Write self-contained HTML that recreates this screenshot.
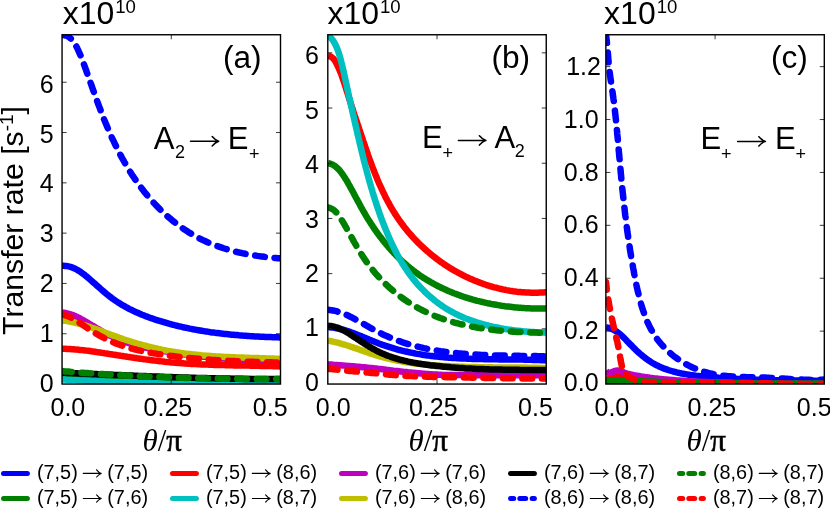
<!DOCTYPE html>
<html><head><meta charset="utf-8"><title>Transfer rate</title>
<style>html,body{margin:0;padding:0;background:#fff;}body{width:830px;height:508px;overflow:hidden;position:relative;font-family:"Liberation Sans",sans-serif;}</style>
</head><body>
<svg width="830" height="508" viewBox="0 0 830 508" style="display:block;position:absolute;left:0;top:0;will-change:transform">
<rect width="830" height="508" fill="#fff"/>
<defs></defs>
<clipPath id="cpa"><rect x="62.05" y="34.75" width="218.45" height="349.29"/></clipPath>
<g clip-path="url(#cpa)" fill="none" stroke-width="6.5" stroke-linejoin="round">
<path d="M62.0,265.8 L63.6,265.8 L65.1,265.9 L66.9,266.1 L68.6,266.4 L70.3,266.8 L71.9,267.4 L73.5,268.0 L75.1,268.7 L76.6,269.5 L78.1,270.4 L79.6,271.3 L81.1,272.3 L82.5,273.3 L83.9,274.3 L85.3,275.5 L86.7,276.6 L88.0,277.7 L89.4,278.9 L90.7,280.1 L92.1,281.3 L93.4,282.5 L94.8,283.6 L96.1,284.8 L97.4,286.0 L98.8,287.2 L100.1,288.4 L101.5,289.6 L102.8,290.8 L104.2,292.0 L105.5,293.1 L106.9,294.2 L108.3,295.4 L109.7,296.5 L111.1,297.5 L112.5,298.6 L114.0,299.6 L115.4,300.6 L116.9,301.6 L118.4,302.6 L119.9,303.5 L121.4,304.5 L122.9,305.4 L124.4,306.2 L126.0,307.1 L127.5,307.9 L129.1,308.8 L130.7,309.6 L132.3,310.3 L133.9,311.1 L135.5,311.9 L137.1,312.6 L138.7,313.3 L140.3,314.0 L142.0,314.7 L143.6,315.3 L145.3,316.0 L146.9,316.6 L148.6,317.3 L150.3,317.9 L151.9,318.4 L153.6,319.0 L155.3,319.6 L157.0,320.1 L158.7,320.7 L160.4,321.2 L162.1,321.7 L163.8,322.2 L165.5,322.7 L167.2,323.2 L168.9,323.7 L170.6,324.1 L172.4,324.6 L174.1,325.0 L175.8,325.5 L177.5,325.9 L179.2,326.3 L181.0,326.7 L182.7,327.1 L184.4,327.5 L186.2,327.8 L187.9,328.2 L189.6,328.6 L191.4,328.9 L193.1,329.3 L194.9,329.6 L196.6,329.9 L198.4,330.2 L200.1,330.5 L201.8,330.8 L203.6,331.1 L205.3,331.4 L207.1,331.6 L208.9,331.9 L210.6,332.2 L212.4,332.4 L214.1,332.6 L215.9,332.9 L217.6,333.1 L219.4,333.3 L221.2,333.5 L222.9,333.7 L224.7,333.9 L226.5,334.1 L228.2,334.3 L230.0,334.5 L231.8,334.7 L233.5,334.8 L235.3,335.0 L237.1,335.1 L238.8,335.3 L240.6,335.4 L242.4,335.6 L244.2,335.7 L245.9,335.8 L247.7,335.9 L249.5,336.1 L251.2,336.2 L253.0,336.3 L254.8,336.4 L256.6,336.5 L258.3,336.6 L260.1,336.7 L261.9,336.7 L263.7,336.8 L265.4,336.9 L267.2,337.0 L269.0,337.0 L270.8,337.1 L272.5,337.2 L274.3,337.2 L276.1,337.3 L277.8,337.3 L279.6,337.4 L280.5,337.4" stroke="#0000ff"/>
<path d="M62.0,374.5 L63.9,374.5 L65.7,374.6 L67.5,374.6 L69.3,374.7 L71.2,374.7 L73.0,374.8 L74.8,374.8 L76.6,374.9 L78.5,374.9 L80.3,375.0 L82.1,375.0 L83.9,375.1 L85.8,375.1 L87.6,375.2 L89.4,375.2 L91.2,375.3 L93.0,375.3 L94.9,375.4 L96.7,375.4 L98.5,375.5 L100.3,375.5 L102.2,375.6 L104.0,375.6 L105.8,375.7 L107.6,375.7 L109.5,375.8 L111.3,375.8 L113.1,375.9 L114.9,375.9 L116.8,376.0 L118.6,376.0 L120.4,376.1 L122.2,376.2 L124.0,376.2 L125.9,376.3 L127.7,376.3 L129.5,376.4 L131.3,376.4 L133.2,376.5 L135.0,376.6 L136.8,376.6 L138.6,376.7 L140.5,376.8 L142.3,376.8 L144.1,376.9 L145.9,377.0 L147.8,377.0 L149.6,377.1 L151.4,377.1 L153.2,377.2 L155.0,377.3 L156.9,377.3 L158.7,377.4 L160.5,377.5 L162.3,377.5 L164.2,377.6 L166.0,377.6 L167.8,377.7 L169.6,377.8 L171.5,377.8 L173.3,377.9 L175.1,377.9 L176.9,378.0 L178.8,378.0 L180.6,378.1 L182.4,378.1 L184.2,378.2 L186.0,378.2 L187.9,378.3 L189.7,378.3 L191.5,378.3 L193.3,378.4 L195.2,378.4 L197.0,378.5 L198.8,378.5 L200.6,378.5 L202.5,378.5 L204.3,378.6 L206.1,378.6 L207.9,378.6 L209.7,378.6 L211.6,378.7 L213.4,378.7 L215.2,378.7 L217.0,378.8 L218.9,378.8 L220.7,378.8 L222.5,378.8 L224.3,378.9 L226.2,378.9 L228.0,378.9 L229.8,378.9 L231.6,378.9 L233.5,379.0 L235.3,379.0 L237.1,379.0 L238.9,379.0 L240.7,379.1 L242.6,379.1 L244.4,379.1 L246.2,379.1 L248.0,379.1 L249.9,379.1 L251.7,379.2 L253.5,379.2 L255.3,379.2 L257.2,379.2 L259.0,379.2 L260.8,379.2 L262.6,379.2 L264.5,379.3 L266.3,379.3 L268.1,379.3 L269.9,379.3 L271.7,379.3 L273.6,379.3 L275.4,379.3 L277.2,379.3 L279.0,379.3 L280.5,379.3" stroke="#008000"/>
<path d="M62.0,348.7 L63.7,348.7 L65.3,348.8 L66.9,348.9 L68.6,349.0 L70.2,349.1 L71.9,349.2 L73.5,349.3 L75.2,349.4 L76.8,349.6 L78.4,349.7 L80.1,349.9 L81.7,350.1 L83.3,350.2 L85.0,350.4 L86.6,350.6 L88.2,350.8 L89.9,351.0 L91.5,351.3 L93.1,351.5 L94.8,351.7 L96.4,352.0 L98.0,352.2 L99.7,352.4 L101.3,352.7 L102.9,352.9 L104.5,353.2 L106.2,353.4 L107.8,353.7 L109.4,354.0 L111.1,354.2 L112.7,354.5 L114.3,354.7 L115.9,355.0 L117.6,355.3 L119.2,355.5 L120.8,355.8 L122.5,356.0 L124.1,356.3 L125.7,356.5 L127.3,356.8 L129.0,357.0 L130.6,357.3 L132.2,357.5 L133.9,357.8 L135.5,358.0 L137.1,358.3 L138.8,358.5 L140.4,358.7 L142.0,358.9 L143.7,359.2 L145.3,359.4 L146.9,359.6 L148.6,359.8 L150.2,360.0 L151.8,360.2 L153.5,360.4 L155.1,360.6 L156.7,360.8 L158.4,361.0 L160.0,361.2 L161.6,361.4 L163.3,361.6 L164.9,361.8 L166.6,361.9 L168.2,362.1 L169.8,362.2 L171.5,362.4 L173.1,362.6 L174.8,362.7 L176.4,362.8 L178.0,363.0 L179.7,363.1 L181.3,363.2 L183.0,363.3 L184.6,363.4 L186.3,363.6 L187.9,363.7 L189.6,363.8 L191.2,363.9 L192.8,364.0 L194.5,364.0 L196.1,364.1 L197.8,364.2 L199.4,364.3 L201.1,364.4 L202.7,364.4 L204.4,364.5 L206.0,364.6 L207.7,364.6 L209.3,364.7 L211.0,364.8 L212.6,364.8 L214.3,364.9 L215.9,364.9 L217.6,365.0 L219.2,365.0 L220.9,365.1 L222.5,365.1 L224.2,365.1 L225.8,365.2 L227.5,365.2 L229.1,365.3 L230.8,365.3 L232.4,365.3 L234.1,365.4 L235.7,365.4 L237.4,365.4 L239.0,365.5 L240.7,365.5 L242.3,365.5 L244.0,365.6 L245.6,365.6 L247.3,365.6 L248.9,365.6 L250.6,365.7 L252.2,365.7 L253.9,365.7 L255.5,365.8 L257.2,365.8 L258.8,365.8 L260.5,365.9 L262.1,365.9 L263.8,365.9 L265.4,366.0 L267.1,366.0 L268.7,366.1 L270.4,366.1 L272.0,366.1 L273.6,366.2 L275.3,366.2 L276.9,366.3 L278.6,366.3 L280.2,366.4 L280.5,366.4" stroke="#ff0000"/>
<path d="M62.0,379.4 L63.6,379.5 L65.3,379.6 L66.9,379.7 L68.6,379.8 L70.2,379.9 L71.8,380.0 L73.5,380.0 L75.1,380.1 L76.8,380.2 L78.4,380.3 L80.0,380.4 L81.7,380.5 L83.3,380.6 L85.0,380.7 L86.6,380.7 L88.2,380.8 L89.9,380.9 L91.5,381.0 L93.1,381.1 L94.8,381.1 L96.4,381.2 L98.1,381.3 L99.7,381.4 L101.3,381.4 L103.0,381.5 L104.6,381.6 L106.3,381.7 L107.9,381.7 L109.5,381.8 L111.2,381.9 L112.8,381.9 L114.5,382.0 L116.1,382.1 L117.7,382.1 L119.4,382.2 L121.0,382.2 L122.7,382.3 L124.3,382.4 L125.9,382.4 L127.6,382.5 L129.2,382.5 L130.9,382.6 L132.5,382.6 L134.1,382.7 L135.8,382.8 L137.4,382.8 L139.1,382.9 L140.7,382.9 L142.3,383.0 L144.0,383.0 L145.6,383.1 L147.3,383.1 L148.9,383.1 L150.6,383.2 L152.2,383.2 L153.8,383.3 L155.5,383.3 L157.1,383.4 L158.8,383.4 L160.4,383.4 L162.0,383.5 L163.7,383.5 L165.3,383.5 L167.0,383.6 L168.6,383.6 L170.2,383.7 L171.9,383.7 L173.5,383.7 L175.2,383.8 L176.8,383.8 L178.4,383.8 L180.1,383.8 L181.7,383.9 L183.4,383.9 L185.0,383.9 L186.7,384.0 L188.3,384.0 L189.9,384.0 L191.6,384.0 L193.2,384.0 L194.9,384.1 L196.5,384.1 L198.1,384.1 L199.8,384.1 L201.4,384.1 L203.1,384.2 L204.7,384.2 L206.3,384.2 L208.0,384.2 L209.6,384.2 L211.3,384.2 L212.9,384.3 L214.6,384.3 L216.2,384.3 L217.8,384.3 L219.5,384.3 L221.1,384.3 L222.8,384.3 L224.4,384.3 L226.0,384.3 L227.7,384.3 L229.3,384.3 L231.0,384.4 L232.6,384.4 L234.3,384.4 L235.9,384.4 L237.5,384.4 L239.2,384.4 L240.8,384.4 L242.5,384.4 L244.1,384.4 L245.7,384.4 L247.4,384.4 L249.0,384.4 L250.7,384.4 L252.3,384.4 L254.0,384.4 L255.6,384.4 L257.2,384.3 L258.9,384.3 L260.5,384.3 L262.2,384.3 L263.8,384.3 L265.4,384.3 L267.1,384.3 L268.7,384.3 L270.4,384.3 L272.0,384.3 L273.7,384.3 L275.3,384.2 L276.9,384.2 L278.6,384.2 L280.2,384.2 L280.5,384.2" stroke="#00bfbf"/>
<path d="M62.0,312.6 L63.7,312.8 L65.4,313.0 L67.1,313.4 L68.7,313.8 L70.3,314.2 L71.9,314.8 L73.5,315.4 L75.0,316.0 L76.6,316.7 L78.1,317.4 L79.6,318.2 L81.1,319.0 L82.6,319.8 L84.1,320.7 L85.6,321.5 L87.0,322.4 L88.5,323.3 L90.0,324.2 L91.4,325.1 L92.9,325.9 L94.4,326.8 L95.8,327.7 L97.3,328.6 L98.8,329.4 L100.3,330.3 L101.7,331.1 L103.2,332.0 L104.7,332.8 L106.2,333.6 L107.7,334.4 L109.2,335.2 L110.8,335.9 L112.3,336.7 L113.8,337.4 L115.4,338.1 L116.9,338.7 L118.5,339.4 L120.1,340.0 L121.6,340.6 L123.2,341.2 L124.8,341.8 L126.4,342.4 L128.0,342.9 L129.7,343.4 L131.3,343.9 L132.9,344.4 L134.5,344.9 L136.2,345.3 L137.8,345.8 L139.5,346.2 L141.1,346.6 L142.8,347.0 L144.5,347.4 L146.1,347.8 L147.8,348.2 L149.5,348.5 L151.2,348.9 L152.8,349.2 L154.5,349.5 L156.2,349.9 L157.9,350.2 L159.6,350.5 L161.3,350.8 L163.0,351.1 L164.7,351.3 L166.4,351.6 L168.1,351.9 L169.8,352.2 L171.4,352.4 L173.1,352.7 L174.8,353.0 L176.5,353.2 L178.2,353.5 L179.9,353.7 L181.6,353.9 L183.3,354.2 L185.0,354.4 L186.7,354.6 L188.4,354.9 L190.1,355.1 L191.8,355.3 L193.5,355.5 L195.1,355.7 L196.8,355.9 L198.5,356.1 L200.2,356.3 L201.9,356.5 L203.6,356.7 L205.3,356.8 L207.0,357.0 L208.7,357.2 L210.4,357.3 L212.1,357.5 L213.8,357.7 L215.5,357.8 L217.2,358.0 L218.9,358.1 L220.6,358.3 L222.3,358.4 L224.0,358.5 L225.6,358.7 L227.3,358.8 L229.0,358.9 L230.7,359.0 L232.4,359.1 L234.1,359.2 L235.8,359.3 L237.5,359.4 L239.2,359.5 L240.9,359.6 L242.6,359.7 L244.3,359.8 L246.0,359.9 L247.7,359.9 L249.4,360.0 L251.1,360.1 L252.9,360.1 L254.6,360.2 L256.3,360.2 L258.0,360.3 L259.7,360.3 L261.4,360.4 L263.1,360.4 L264.8,360.4 L266.5,360.4 L268.2,360.5 L269.9,360.5 L271.6,360.5 L273.4,360.5 L275.1,360.5 L276.8,360.5 L278.5,360.5 L280.2,360.5 L280.5,360.5" stroke="#bf00bf"/>
<path d="M62.0,320.5 L63.7,320.7 L65.3,320.9 L67.0,321.1 L68.6,321.4 L70.3,321.7 L71.9,322.0 L73.6,322.4 L75.2,322.8 L76.8,323.1 L78.4,323.6 L80.0,324.0 L81.6,324.4 L83.2,324.9 L84.8,325.4 L86.4,325.9 L88.0,326.4 L89.6,326.9 L91.2,327.5 L92.8,328.0 L94.4,328.6 L95.9,329.2 L97.5,329.7 L99.1,330.3 L100.7,330.9 L102.3,331.5 L103.8,332.1 L105.4,332.7 L107.0,333.3 L108.6,333.8 L110.1,334.4 L111.7,335.0 L113.3,335.6 L114.9,336.2 L116.5,336.7 L118.0,337.3 L119.6,337.9 L121.2,338.4 L122.8,339.0 L124.4,339.5 L126.0,340.0 L127.6,340.5 L129.2,341.0 L130.8,341.5 L132.4,342.0 L134.0,342.5 L135.6,343.0 L137.2,343.5 L138.8,344.0 L140.4,344.4 L142.1,344.9 L143.7,345.3 L145.3,345.7 L146.9,346.2 L148.5,346.6 L150.2,347.0 L151.8,347.4 L153.4,347.8 L155.1,348.1 L156.7,348.5 L158.3,348.9 L160.0,349.2 L161.6,349.6 L163.2,349.9 L164.9,350.2 L166.5,350.6 L168.2,350.9 L169.8,351.2 L171.5,351.5 L173.1,351.7 L174.8,352.0 L176.4,352.3 L178.1,352.5 L179.7,352.8 L181.4,353.0 L183.0,353.2 L184.7,353.5 L186.4,353.7 L188.0,353.9 L189.7,354.1 L191.4,354.3 L193.0,354.5 L194.7,354.6 L196.4,354.8 L198.0,355.0 L199.7,355.1 L201.4,355.3 L203.1,355.4 L204.7,355.6 L206.4,355.7 L208.1,355.8 L209.8,356.0 L211.4,356.1 L213.1,356.2 L214.8,356.3 L216.5,356.4 L218.2,356.5 L219.8,356.6 L221.5,356.7 L223.2,356.8 L224.9,356.9 L226.6,357.0 L228.3,357.0 L229.9,357.1 L231.6,357.2 L233.3,357.3 L235.0,357.3 L236.7,357.4 L238.3,357.5 L240.0,357.5 L241.7,357.6 L243.4,357.6 L245.1,357.7 L246.8,357.8 L248.4,357.8 L250.1,357.9 L251.8,357.9 L253.5,358.0 L255.1,358.0 L256.8,358.1 L258.5,358.1 L260.2,358.2 L261.9,358.2 L263.5,358.3 L265.2,358.3 L266.9,358.4 L268.5,358.5 L270.2,358.5 L271.9,358.6 L273.6,358.6 L275.2,358.7 L276.9,358.8 L278.6,358.8 L280.2,358.9 L280.5,358.9" stroke="#bfbf00"/>
<path d="M62.0,372.7 L63.6,372.8 L65.3,372.8 L66.9,372.9 L68.6,373.0 L70.2,373.0 L71.8,373.1 L73.5,373.2 L75.1,373.2 L76.8,373.3 L78.4,373.4 L80.0,373.4 L81.7,373.5 L83.3,373.6 L85.0,373.6 L86.6,373.7 L88.2,373.8 L89.9,373.8 L91.5,373.9 L93.2,374.0 L94.8,374.0 L96.4,374.1 L98.1,374.2 L99.7,374.2 L101.4,374.3 L103.0,374.4 L104.6,374.5 L106.3,374.5 L107.9,374.6 L109.6,374.7 L111.2,374.7 L112.8,374.8 L114.5,374.9 L116.1,374.9 L117.8,375.0 L119.4,375.1 L121.0,375.1 L122.7,375.2 L124.3,375.3 L126.0,375.3 L127.6,375.4 L129.3,375.5 L130.9,375.5 L132.5,375.6 L134.2,375.7 L135.8,375.7 L137.5,375.8 L139.1,375.9 L140.7,375.9 L142.4,376.0 L144.0,376.1 L145.7,376.1 L147.3,376.2 L148.9,376.3 L150.6,376.3 L152.2,376.4 L153.9,376.4 L155.5,376.5 L157.1,376.6 L158.8,376.6 L160.4,376.7 L162.1,376.7 L163.7,376.8 L165.3,376.9 L167.0,376.9 L168.6,377.0 L170.3,377.0 L171.9,377.1 L173.5,377.2 L175.2,377.2 L176.8,377.3 L178.5,377.3 L180.1,377.4 L181.7,377.4 L183.4,377.5 L185.0,377.5 L186.7,377.6 L188.3,377.6 L189.9,377.7 L191.6,377.7 L193.2,377.8 L194.9,377.8 L196.5,377.9 L198.2,377.9 L199.8,378.0 L201.4,378.0 L203.1,378.1 L204.7,378.1 L206.4,378.1 L208.0,378.2 L209.6,378.2 L211.3,378.3 L212.9,378.3 L214.6,378.3 L216.2,378.4 L217.8,378.4 L219.5,378.5 L221.1,378.5 L222.8,378.5 L224.4,378.6 L226.1,378.6 L227.7,378.6 L229.3,378.6 L231.0,378.7 L232.6,378.7 L234.3,378.7 L235.9,378.8 L237.5,378.8 L239.2,378.8 L240.8,378.8 L242.5,378.8 L244.1,378.9 L245.7,378.9 L247.4,378.9 L249.0,378.9 L250.7,378.9 L252.3,378.9 L254.0,379.0 L255.6,379.0 L257.2,379.0 L258.9,379.0 L260.5,379.0 L262.2,379.0 L263.8,379.0 L265.4,379.0 L267.1,379.0 L268.7,379.0 L270.4,379.0 L272.0,379.0 L273.7,379.0 L275.3,379.0 L276.9,379.0 L278.6,379.0 L280.2,379.0 L280.5,379.0" stroke="#000000"/>
<path d="M62.0,35.0 L63.8,35.1 L65.5,35.5 L67.1,36.0 L68.5,36.8 L69.8,37.7 L71.0,38.7 L72.1,39.9 L73.1,41.1 L74.1,42.5 L75.0,43.9 L75.8,45.4 L76.6,46.9 L77.4,48.5 L78.1,50.0 L78.8,51.6 L79.5,53.1 L80.2,54.7 L80.9,56.3 L81.5,57.9 L82.1,59.5 L82.7,61.1 L83.3,62.7 L83.9,64.3 L84.5,65.9 L85.1,67.5 L85.7,69.1 L86.3,70.7 L86.8,72.3 L87.4,73.9 L88.0,75.4 L88.5,77.0 L89.1,78.6 L89.7,80.2 L90.2,81.8 L90.8,83.4 L91.4,85.0 L91.9,86.6 L92.5,88.2 L93.0,89.8 L93.6,91.3 L94.2,92.9 L94.7,94.5 L95.3,96.1 L95.9,97.7 L96.5,99.2 L97.0,100.8 L97.6,102.4 L98.2,104.0 L98.8,105.6 L99.4,107.1 L100.0,108.7 L100.6,110.3 L101.2,111.9 L101.8,113.4 L102.4,115.0 L103.0,116.6 L103.6,118.1 L104.2,119.7 L104.9,121.3 L105.5,122.8 L106.2,124.4 L106.8,125.9 L107.5,127.5 L108.1,129.0 L108.8,130.6 L109.5,132.1 L110.1,133.7 L110.8,135.2 L111.5,136.8 L112.2,138.3 L112.9,139.8 L113.7,141.3 L114.4,142.9 L115.1,144.4 L115.9,145.9 L116.6,147.4 L117.4,148.9 L118.1,150.4 L118.9,151.9 L119.7,153.4 L120.4,154.9 L121.2,156.4 L122.0,157.9 L122.9,159.4 L123.7,160.8 L124.5,162.3 L125.4,163.8 L126.2,165.2 L127.1,166.7 L127.9,168.1 L128.8,169.6 L129.7,171.0 L130.6,172.4 L131.5,173.9 L132.4,175.3 L133.4,176.7 L134.3,178.1 L135.3,179.5 L136.2,180.9 L137.2,182.3 L138.2,183.7 L139.2,185.0 L140.2,186.4 L141.2,187.7 L142.2,189.1 L143.3,190.4 L144.3,191.8 L145.4,193.1 L146.5,194.4 L147.5,195.7 L148.6,197.0 L149.7,198.3 L150.9,199.6 L152.0,200.9 L153.1,202.1 L154.3,203.4 L155.4,204.6 L156.6,205.8 L157.8,207.1 L159.0,208.3 L160.2,209.5 L161.4,210.7 L162.6,211.8 L163.8,213.0 L165.1,214.1 L166.3,215.3 L167.6,216.4 L168.9,217.5 L170.2,218.6 L171.5,219.7 L172.8,220.8 L174.1,221.8 L175.4,222.9 L176.7,223.9 L178.1,224.9 L179.4,226.0 L180.8,226.9 L182.2,227.9 L183.6,228.9 L184.9,229.8 L186.4,230.7 L187.8,231.7 L189.2,232.6 L190.6,233.4 L192.1,234.3 L193.5,235.1 L195.0,236.0 L196.4,236.8 L197.9,237.6 L199.4,238.4 L200.9,239.1 L202.4,239.9 L203.9,240.6 L205.5,241.3 L207.0,242.0 L208.5,242.7 L210.1,243.3 L211.7,244.0 L213.2,244.6 L214.8,245.2 L216.4,245.8 L218.0,246.3 L219.6,246.9 L221.2,247.4 L222.8,248.0 L224.4,248.5 L226.0,249.0 L227.6,249.5 L229.2,249.9 L230.9,250.4 L232.5,250.8 L234.2,251.3 L235.8,251.7 L237.4,252.1 L239.1,252.5 L240.8,252.8 L242.4,253.2 L244.1,253.5 L245.7,253.9 L247.4,254.2 L249.1,254.5 L250.8,254.8 L252.4,255.1 L254.1,255.4 L255.8,255.6 L257.5,255.9 L259.1,256.1 L260.8,256.4 L262.5,256.6 L264.2,256.8 L265.9,257.0 L267.5,257.2 L269.2,257.4 L270.9,257.6 L272.6,257.7 L274.2,257.9 L275.9,258.0 L277.6,258.2 L279.3,258.3 L280.5,258.4" stroke="#0000ff" stroke-dasharray="9.75 9.75" stroke-dashoffset="0" stroke-linecap="round"/>
<path d="M62.0,371.1 L63.6,371.2 L65.3,371.4 L66.9,371.5 L68.5,371.6 L70.2,371.8 L71.8,371.9 L73.5,372.0 L75.1,372.2 L76.7,372.3 L78.4,372.4 L80.0,372.5 L81.6,372.7 L83.3,372.8 L84.9,372.9 L86.6,373.0 L88.2,373.1 L89.8,373.3 L91.5,373.4 L93.1,373.5 L94.8,373.6 L96.4,373.7 L98.0,373.8 L99.7,373.9 L101.3,374.0 L102.9,374.1 L104.6,374.2 L106.2,374.3 L107.9,374.4 L109.5,374.5 L111.1,374.6 L112.8,374.7 L114.4,374.8 L116.1,374.9 L117.7,375.0 L119.3,375.1 L121.0,375.2 L122.6,375.3 L124.3,375.4 L125.9,375.5 L127.5,375.6 L129.2,375.7 L130.8,375.7 L132.5,375.8 L134.1,375.9 L135.7,376.0 L137.4,376.1 L139.0,376.1 L140.7,376.2 L142.3,376.3 L143.9,376.4 L145.6,376.4 L147.2,376.5 L148.9,376.6 L150.5,376.7 L152.1,376.7 L153.8,376.8 L155.4,376.9 L157.1,376.9 L158.7,377.0 L160.4,377.0 L162.0,377.1 L163.6,377.2 L165.3,377.2 L166.9,377.3 L168.6,377.3 L170.2,377.4 L171.8,377.5 L173.5,377.5 L175.1,377.6 L176.8,377.6 L178.4,377.7 L180.0,377.7 L181.7,377.8 L183.3,377.8 L185.0,377.9 L186.6,377.9 L188.3,378.0 L189.9,378.0 L191.5,378.0 L193.2,378.1 L194.8,378.1 L196.5,378.2 L198.1,378.2 L199.8,378.2 L201.4,378.3 L203.0,378.3 L204.7,378.3 L206.3,378.4 L208.0,378.4 L209.6,378.4 L211.2,378.5 L212.9,378.5 L214.5,378.5 L216.2,378.6 L217.8,378.6 L219.5,378.6 L221.1,378.6 L222.7,378.7 L224.4,378.7 L226.0,378.7 L227.7,378.7 L229.3,378.8 L231.0,378.8 L232.6,378.8 L234.2,378.8 L235.9,378.8 L237.5,378.8 L239.2,378.9 L240.8,378.9 L242.4,378.9 L244.1,378.9 L245.7,378.9 L247.4,378.9 L249.0,378.9 L250.7,379.0 L252.3,379.0 L253.9,379.0 L255.6,379.0 L257.2,379.0 L258.9,379.0 L260.5,379.0 L262.2,379.0 L263.8,379.0 L265.4,379.0 L267.1,379.0 L268.7,379.0 L270.4,379.0 L272.0,379.0 L273.7,379.0 L275.3,379.0 L276.9,379.0 L278.6,379.0 L280.2,379.0 L280.5,379.0" stroke="#008000" stroke-dasharray="9.75 9.75" stroke-dashoffset="0" stroke-linecap="round"/>
<path d="M62.0,314.5 L63.7,314.9 L65.3,315.3 L66.9,315.9 L68.5,316.5 L70.0,317.1 L71.5,317.9 L73.0,318.7 L74.5,319.5 L76.0,320.4 L77.4,321.3 L78.8,322.2 L80.3,323.2 L81.7,324.1 L83.1,325.1 L84.5,326.1 L86.0,327.1 L87.4,328.1 L88.8,329.0 L90.3,330.0 L91.7,330.9 L93.2,331.8 L94.6,332.7 L96.1,333.6 L97.6,334.4 L99.0,335.3 L100.5,336.1 L102.0,336.9 L103.5,337.7 L105.0,338.5 L106.6,339.3 L108.1,340.0 L109.6,340.7 L111.2,341.4 L112.7,342.1 L114.3,342.7 L115.9,343.4 L117.5,344.0 L119.0,344.6 L120.6,345.2 L122.3,345.7 L123.9,346.2 L125.5,346.8 L127.1,347.3 L128.8,347.8 L130.4,348.2 L132.0,348.7 L133.7,349.1 L135.4,349.5 L137.0,349.9 L138.7,350.3 L140.4,350.7 L142.0,351.1 L143.7,351.4 L145.4,351.8 L147.1,352.1 L148.8,352.4 L150.5,352.8 L152.2,353.1 L153.9,353.4 L155.6,353.6 L157.3,353.9 L159.0,354.2 L160.7,354.4 L162.4,354.7 L164.1,354.9 L165.8,355.2 L167.5,355.4 L169.2,355.6 L170.9,355.9 L172.6,356.1 L174.3,356.3 L176.0,356.5 L177.7,356.7 L179.4,356.9 L181.2,357.1 L182.9,357.3 L184.6,357.5 L186.3,357.6 L188.0,357.8 L189.7,358.0 L191.4,358.2 L193.1,358.3 L194.8,358.5 L196.5,358.6 L198.2,358.8 L199.9,358.9 L201.6,359.1 L203.3,359.2 L205.0,359.4 L206.7,359.5 L208.4,359.6 L210.1,359.7 L211.8,359.9 L213.5,360.0 L215.2,360.1 L216.9,360.2 L218.6,360.3 L220.3,360.4 L222.0,360.5 L223.7,360.6 L225.4,360.7 L227.1,360.8 L228.9,360.9 L230.6,361.0 L232.3,361.0 L234.0,361.1 L235.7,361.2 L237.4,361.3 L239.1,361.3 L240.8,361.4 L242.5,361.5 L244.2,361.6 L245.9,361.6 L247.6,361.7 L249.3,361.7 L251.1,361.8 L252.8,361.8 L254.5,361.9 L256.2,361.9 L257.9,362.0 L259.6,362.0 L261.3,362.1 L263.0,362.1 L264.8,362.2 L266.5,362.2 L268.2,362.3 L269.9,362.3 L271.6,362.3 L273.3,362.4 L275.1,362.4 L276.8,362.4 L278.5,362.5 L280.2,362.5 L280.5,362.5" stroke="#ff0000" stroke-dasharray="9.75 9.75" stroke-dashoffset="0" stroke-linecap="round"/>
</g>
<clipPath id="cpb"><rect x="327.8" y="34.75" width="218.45" height="349.29"/></clipPath>
<g clip-path="url(#cpb)" fill="none" stroke-width="6.5" stroke-linejoin="round">
<path d="M328.0,327.0 L329.7,327.2 L331.4,327.4 L333.0,327.6 L334.7,327.9 L336.3,328.2 L337.9,328.5 L339.6,328.9 L341.2,329.3 L342.8,329.7 L344.4,330.2 L346.0,330.7 L347.6,331.2 L349.2,331.7 L350.7,332.2 L352.3,332.8 L353.9,333.4 L355.4,334.0 L357.0,334.6 L358.6,335.2 L360.1,335.8 L361.7,336.4 L363.2,337.1 L364.8,337.7 L366.3,338.4 L367.9,339.0 L369.4,339.7 L371.0,340.3 L372.5,340.9 L374.1,341.6 L375.6,342.2 L377.2,342.8 L378.7,343.4 L380.3,344.0 L381.9,344.6 L383.5,345.1 L385.0,345.7 L386.6,346.2 L388.2,346.7 L389.8,347.2 L391.4,347.7 L393.0,348.2 L394.6,348.7 L396.2,349.1 L397.8,349.6 L399.4,350.0 L401.0,350.4 L402.7,350.8 L404.3,351.2 L405.9,351.5 L407.5,351.9 L409.2,352.3 L410.8,352.6 L412.4,352.9 L414.1,353.2 L415.7,353.6 L417.4,353.9 L419.0,354.1 L420.7,354.4 L422.3,354.7 L424.0,354.9 L425.6,355.2 L427.3,355.4 L428.9,355.6 L430.6,355.9 L432.3,356.1 L433.9,356.3 L435.6,356.5 L437.3,356.6 L438.9,356.8 L440.6,357.0 L442.3,357.1 L443.9,357.3 L445.6,357.4 L447.3,357.6 L448.9,357.7 L450.6,357.8 L452.3,357.9 L454.0,358.0 L455.6,358.1 L457.3,358.2 L459.0,358.3 L460.7,358.4 L462.3,358.5 L464.0,358.6 L465.7,358.6 L467.4,358.7 L469.1,358.8 L470.7,358.8 L472.4,358.9 L474.1,358.9 L475.8,359.0 L477.5,359.0 L479.1,359.1 L480.8,359.1 L482.5,359.1 L484.2,359.2 L485.9,359.2 L487.6,359.2 L489.2,359.2 L490.9,359.3 L492.6,359.3 L494.3,359.3 L496.0,359.3 L497.7,359.3 L499.3,359.4 L501.0,359.4 L502.7,359.4 L504.4,359.4 L506.1,359.4 L507.7,359.4 L509.4,359.5 L511.1,359.5 L512.8,359.5 L514.5,359.5 L516.1,359.5 L517.8,359.6 L519.5,359.6 L521.2,359.6 L522.9,359.6 L524.5,359.7 L526.2,359.7 L527.9,359.7 L529.5,359.8 L531.2,359.8 L532.9,359.9 L534.6,359.9 L536.2,360.0 L537.9,360.0 L539.6,360.1 L541.2,360.2 L542.9,360.2 L544.6,360.3 L546.2,360.4 L546.5,360.4" stroke="#0000ff"/>
<path d="M328.0,163.1 L329.7,163.5 L331.4,164.1 L332.9,164.8 L334.4,165.7 L335.7,166.7 L337.0,167.8 L338.3,169.0 L339.5,170.3 L340.6,171.7 L341.7,173.1 L342.7,174.5 L343.7,176.0 L344.7,177.5 L345.6,179.0 L346.6,180.5 L347.5,182.0 L348.3,183.6 L349.2,185.1 L350.1,186.7 L350.9,188.3 L351.8,189.8 L352.6,191.4 L353.5,192.9 L354.3,194.5 L355.1,196.0 L355.9,197.6 L356.8,199.1 L357.6,200.6 L358.4,202.2 L359.3,203.7 L360.1,205.2 L360.9,206.8 L361.8,208.3 L362.6,209.8 L363.5,211.3 L364.4,212.8 L365.2,214.3 L366.1,215.8 L367.0,217.3 L367.9,218.8 L368.8,220.3 L369.8,221.8 L370.7,223.2 L371.7,224.7 L372.6,226.2 L373.6,227.6 L374.6,229.1 L375.6,230.5 L376.6,232.0 L377.7,233.4 L378.7,234.8 L379.7,236.2 L380.8,237.6 L381.9,239.0 L383.0,240.4 L384.1,241.8 L385.2,243.1 L386.3,244.5 L387.5,245.8 L388.6,247.2 L389.8,248.5 L391.0,249.8 L392.1,251.1 L393.3,252.4 L394.5,253.7 L395.8,254.9 L397.0,256.2 L398.3,257.4 L399.5,258.7 L400.8,259.9 L402.1,261.1 L403.4,262.3 L404.7,263.4 L406.0,264.6 L407.3,265.7 L408.7,266.8 L410.0,268.0 L411.4,269.1 L412.7,270.1 L414.1,271.2 L415.5,272.2 L416.9,273.3 L418.4,274.3 L419.8,275.3 L421.2,276.3 L422.7,277.2 L424.2,278.2 L425.6,279.1 L427.1,280.0 L428.6,280.9 L430.1,281.8 L431.6,282.7 L433.2,283.5 L434.7,284.3 L436.2,285.2 L437.8,286.0 L439.4,286.8 L440.9,287.5 L442.5,288.3 L444.1,289.0 L445.7,289.7 L447.3,290.5 L448.9,291.2 L450.5,291.8 L452.1,292.5 L453.8,293.2 L455.4,293.8 L457.0,294.4 L458.7,295.0 L460.4,295.6 L462.0,296.2 L463.7,296.8 L465.4,297.3 L467.0,297.8 L468.7,298.4 L470.4,298.9 L472.1,299.4 L473.8,299.8 L475.5,300.3 L477.2,300.8 L478.9,301.2 L480.6,301.6 L482.4,302.0 L484.1,302.4 L485.8,302.8 L487.5,303.2 L489.3,303.5 L491.0,303.9 L492.7,304.2 L494.5,304.5 L496.2,304.8 L498.0,305.1 L499.7,305.4 L501.5,305.7 L503.2,305.9 L505.0,306.2 L506.7,306.4 L508.5,306.6 L510.2,306.8 L512.0,307.0 L513.7,307.2 L515.5,307.4 L517.2,307.5 L519.0,307.7 L520.7,307.8 L522.5,307.9 L524.2,308.1 L526.0,308.2 L527.7,308.2 L529.5,308.3 L531.2,308.4 L533.0,308.4 L534.7,308.5 L536.5,308.5 L538.2,308.5 L539.9,308.6 L541.7,308.6 L543.4,308.5 L545.1,308.5 L546.5,308.5" stroke="#008000"/>
<path d="M328.0,56.0 L329.8,56.3 L331.4,57.0 L332.7,58.0 L333.9,59.3 L334.9,60.7 L335.8,62.2 L336.6,63.7 L337.4,65.3 L338.2,67.0 L338.9,68.6 L339.6,70.2 L340.3,71.9 L341.0,73.6 L341.6,75.2 L342.2,76.9 L342.8,78.6 L343.4,80.3 L343.9,81.9 L344.5,83.6 L345.0,85.3 L345.6,87.0 L346.1,88.6 L346.6,90.3 L347.1,92.0 L347.7,93.7 L348.2,95.4 L348.7,97.0 L349.2,98.7 L349.8,100.4 L350.3,102.0 L350.8,103.7 L351.4,105.4 L351.9,107.0 L352.5,108.7 L353.0,110.4 L353.5,112.0 L354.1,113.7 L354.6,115.3 L355.2,117.0 L355.7,118.7 L356.3,120.3 L356.8,122.0 L357.4,123.6 L358.0,125.3 L358.5,127.0 L359.1,128.6 L359.6,130.3 L360.2,132.0 L360.8,133.6 L361.3,135.3 L361.9,137.0 L362.5,138.7 L363.0,140.3 L363.6,142.0 L364.2,143.7 L364.7,145.4 L365.3,147.1 L365.9,148.7 L366.5,150.4 L367.1,152.1 L367.6,153.8 L368.2,155.5 L368.8,157.1 L369.4,158.8 L370.0,160.5 L370.7,162.2 L371.3,163.8 L371.9,165.5 L372.5,167.2 L373.2,168.8 L373.8,170.5 L374.5,172.2 L375.1,173.8 L375.8,175.5 L376.5,177.1 L377.1,178.7 L377.8,180.4 L378.5,182.0 L379.2,183.7 L379.9,185.3 L380.7,186.9 L381.4,188.5 L382.2,190.1 L382.9,191.7 L383.7,193.3 L384.5,194.9 L385.2,196.5 L386.0,198.1 L386.9,199.6 L387.7,201.2 L388.5,202.7 L389.4,204.3 L390.2,205.8 L391.1,207.4 L392.0,208.9 L392.9,210.4 L393.8,211.9 L394.7,213.4 L395.7,214.9 L396.7,216.3 L397.6,217.8 L398.6,219.3 L399.6,220.7 L400.7,222.1 L401.7,223.6 L402.8,225.0 L403.8,226.4 L404.9,227.8 L406.0,229.1 L407.1,230.5 L408.2,231.9 L409.4,233.2 L410.5,234.5 L411.7,235.8 L412.9,237.2 L414.1,238.5 L415.3,239.7 L416.5,241.0 L417.7,242.3 L419.0,243.5 L420.2,244.7 L421.5,246.0 L422.8,247.2 L424.1,248.4 L425.4,249.6 L426.7,250.7 L428.1,251.9 L429.4,253.0 L430.8,254.2 L432.1,255.3 L433.5,256.4 L434.9,257.5 L436.3,258.5 L437.7,259.6 L439.1,260.6 L440.5,261.7 L442.0,262.7 L443.4,263.7 L444.9,264.7 L446.4,265.7 L447.9,266.6 L449.3,267.6 L450.8,268.5 L452.3,269.4 L453.9,270.3 L455.4,271.2 L456.9,272.0 L458.5,272.9 L460.0,273.7 L461.6,274.5 L463.2,275.3 L464.7,276.1 L466.3,276.9 L467.9,277.6 L469.5,278.4 L471.1,279.1 L472.7,279.8 L474.4,280.5 L476.0,281.1 L477.6,281.8 L479.3,282.4 L480.9,283.0 L482.6,283.6 L484.2,284.2 L485.9,284.8 L487.6,285.3 L489.2,285.8 L490.9,286.3 L492.6,286.8 L494.3,287.3 L496.0,287.7 L497.7,288.2 L499.4,288.6 L501.2,289.0 L502.9,289.4 L504.6,289.7 L506.3,290.1 L508.1,290.4 L509.8,290.7 L511.5,290.9 L513.3,291.2 L515.0,291.4 L516.8,291.7 L518.5,291.9 L520.3,292.0 L522.1,292.2 L523.8,292.3 L525.6,292.4 L527.4,292.5 L529.1,292.6 L530.9,292.7 L532.7,292.7 L534.5,292.7 L536.2,292.7 L538.0,292.7 L539.8,292.6 L541.6,292.5 L543.4,292.4 L545.2,292.3 L546.5,292.2" stroke="#ff0000"/>
<path d="M328.0,35.0 L329.2,36.0 L330.2,37.1 L331.2,38.3 L332.2,39.4 L333.1,40.7 L333.9,41.9 L334.6,43.2 L335.4,44.6 L336.0,45.9 L336.6,47.3 L337.2,48.7 L337.8,50.2 L338.3,51.6 L338.8,53.1 L339.3,54.6 L339.7,56.1 L340.1,57.6 L340.6,59.0 L341.0,60.5 L341.3,62.0 L341.7,63.5 L342.1,65.0 L342.5,66.5 L342.8,68.1 L343.2,69.6 L343.5,71.1 L343.9,72.6 L344.2,74.1 L344.5,75.6 L344.8,77.1 L345.2,78.6 L345.5,80.1 L345.8,81.6 L346.1,83.1 L346.5,84.6 L346.8,86.2 L347.1,87.7 L347.4,89.2 L347.8,90.7 L348.1,92.2 L348.4,93.7 L348.7,95.2 L349.1,96.7 L349.4,98.2 L349.7,99.7 L350.1,101.2 L350.4,102.7 L350.8,104.2 L351.1,105.7 L351.4,107.2 L351.8,108.7 L352.1,110.2 L352.4,111.7 L352.8,113.2 L353.1,114.7 L353.5,116.2 L353.8,117.7 L354.2,119.2 L354.5,120.7 L354.8,122.2 L355.2,123.7 L355.5,125.2 L355.9,126.7 L356.2,128.2 L356.6,129.7 L356.9,131.2 L357.3,132.7 L357.6,134.2 L358.0,135.7 L358.3,137.2 L358.7,138.7 L359.0,140.2 L359.4,141.6 L359.7,143.1 L360.1,144.6 L360.5,146.1 L360.8,147.6 L361.2,149.1 L361.5,150.6 L361.9,152.1 L362.3,153.6 L362.6,155.1 L363.0,156.6 L363.4,158.1 L363.7,159.6 L364.1,161.1 L364.5,162.6 L364.9,164.1 L365.3,165.5 L365.6,167.0 L366.0,168.5 L366.4,170.0 L366.8,171.5 L367.2,173.0 L367.6,174.5 L368.0,176.0 L368.4,177.4 L368.8,178.9 L369.2,180.4 L369.6,181.9 L370.1,183.4 L370.5,184.8 L370.9,186.3 L371.3,187.8 L371.8,189.3 L372.2,190.7 L372.6,192.2 L373.1,193.7 L373.5,195.2 L374.0,196.6 L374.5,198.1 L374.9,199.6 L375.4,201.0 L375.9,202.5 L376.3,203.9 L376.8,205.4 L377.3,206.9 L377.8,208.3 L378.3,209.8 L378.8,211.2 L379.3,212.7 L379.8,214.1 L380.3,215.6 L380.9,217.0 L381.4,218.5 L381.9,219.9 L382.5,221.4 L383.0,222.8 L383.6,224.2 L384.2,225.7 L384.7,227.1 L385.3,228.5 L385.9,230.0 L386.5,231.4 L387.1,232.8 L387.7,234.2 L388.3,235.7 L388.9,237.1 L389.5,238.5 L390.1,239.9 L390.8,241.3 L391.4,242.7 L392.1,244.1 L392.7,245.5 L393.4,246.9 L394.1,248.3 L394.8,249.7 L395.5,251.1 L396.2,252.4 L396.9,253.8 L397.6,255.1 L398.4,256.5 L399.1,257.8 L399.9,259.2 L400.7,260.5 L401.4,261.8 L402.2,263.2 L403.0,264.5 L403.9,265.8 L404.7,267.1 L405.5,268.4 L406.4,269.6 L407.2,270.9 L408.1,272.2 L409.0,273.4 L409.9,274.7 L410.8,275.9 L411.8,277.1 L412.7,278.3 L413.7,279.5 L414.6,280.7 L415.6,281.9 L416.6,283.1 L417.6,284.2 L418.6,285.4 L419.7,286.5 L420.7,287.6 L421.8,288.7 L422.9,289.8 L423.9,290.9 L425.0,292.0 L426.2,293.1 L427.3,294.1 L428.4,295.1 L429.5,296.1 L430.7,297.2 L431.9,298.1 L433.1,299.1 L434.2,300.1 L435.4,301.0 L436.7,302.0 L437.9,302.9 L439.1,303.8 L440.4,304.7 L441.6,305.6 L442.9,306.4 L444.2,307.3 L445.4,308.1 L446.7,308.9 L448.0,309.7 L449.4,310.4 L450.7,311.2 L452.0,311.9 L453.4,312.7 L454.7,313.4 L456.1,314.1 L457.5,314.7 L458.8,315.4 L460.2,316.0 L461.6,316.7 L463.0,317.3 L464.4,317.9 L465.9,318.5 L467.3,319.0 L468.7,319.6 L470.2,320.1 L471.6,320.6 L473.1,321.1 L474.5,321.6 L476.0,322.1 L477.5,322.6 L479.0,323.0 L480.4,323.5 L481.9,323.9 L483.4,324.3 L484.9,324.7 L486.4,325.1 L487.9,325.5 L489.4,325.9 L490.9,326.2 L492.5,326.6 L494.0,326.9 L495.5,327.2 L497.0,327.5 L498.6,327.8 L500.1,328.1 L501.6,328.4 L503.2,328.7 L504.7,328.9 L506.2,329.2 L507.8,329.4 L509.3,329.6 L510.8,329.8 L512.4,330.1 L513.9,330.3 L515.5,330.4 L517.0,330.6 L518.6,330.8 L520.1,331.0 L521.6,331.1 L523.2,331.3 L524.7,331.4 L526.2,331.5 L527.8,331.7 L529.3,331.8 L530.8,331.9 L532.4,332.0 L533.9,332.1 L535.4,332.2 L536.9,332.3 L538.5,332.4 L540.0,332.4 L541.5,332.5 L543.0,332.6 L544.5,332.6 L546.5,332.7" stroke="#00bfbf"/>
<path d="M327.8,364.4 L329.6,364.5 L331.4,364.6 L333.3,364.8 L335.1,364.9 L336.9,365.0 L338.7,365.2 L340.6,365.3 L342.4,365.4 L344.2,365.6 L346.0,365.7 L347.9,365.9 L349.7,366.0 L351.5,366.2 L353.3,366.3 L355.2,366.5 L357.0,366.7 L358.8,366.8 L360.6,367.0 L362.4,367.2 L364.3,367.3 L366.1,367.5 L367.9,367.7 L369.7,367.9 L371.6,368.0 L373.4,368.2 L375.2,368.4 L377.0,368.6 L378.9,368.9 L380.7,369.1 L382.5,369.3 L384.3,369.5 L386.2,369.8 L388.0,370.0 L389.8,370.2 L391.6,370.4 L393.4,370.7 L395.3,370.9 L397.1,371.1 L398.9,371.3 L400.7,371.5 L402.6,371.7 L404.4,371.9 L406.2,372.1 L408.0,372.3 L409.9,372.4 L411.7,372.6 L413.5,372.7 L415.3,372.9 L417.1,373.1 L419.0,373.2 L420.8,373.4 L422.6,373.6 L424.4,373.7 L426.3,373.9 L428.1,374.0 L429.9,374.2 L431.7,374.3 L433.6,374.4 L435.4,374.5 L437.2,374.6 L439.0,374.7 L440.9,374.8 L442.7,374.9 L444.5,374.9 L446.3,375.0 L448.1,375.0 L450.0,375.0 L451.8,375.0 L453.6,375.0 L455.4,375.0 L457.3,375.1 L459.1,375.1 L460.9,375.1 L462.7,375.1 L464.6,375.1 L466.4,375.1 L468.2,375.1 L470.0,375.1 L471.9,375.1 L473.7,375.1 L475.5,375.2 L477.3,375.2 L479.1,375.2 L481.0,375.2 L482.8,375.2 L484.6,375.2 L486.4,375.2 L488.3,375.2 L490.1,375.2 L491.9,375.2 L493.7,375.2 L495.6,375.2 L497.4,375.2 L499.2,375.2 L501.0,375.2 L502.9,375.2 L504.7,375.3 L506.5,375.3 L508.3,375.3 L510.1,375.3 L512.0,375.3 L513.8,375.3 L515.6,375.3 L517.4,375.3 L519.3,375.3 L521.1,375.3 L522.9,375.3 L524.7,375.3 L526.6,375.3 L528.4,375.3 L530.2,375.3 L532.0,375.3 L533.9,375.3 L535.7,375.3 L537.5,375.3 L539.3,375.3 L541.1,375.3 L543.0,375.3 L544.8,375.3 L546.2,375.3" stroke="#bf00bf"/>
<path d="M328.0,340.6 L329.6,340.9 L331.3,341.2 L332.9,341.6 L334.5,341.9 L336.1,342.3 L337.7,342.7 L339.3,343.2 L340.9,343.6 L342.5,344.1 L344.1,344.5 L345.7,345.0 L347.3,345.5 L348.9,346.0 L350.5,346.6 L352.1,347.1 L353.6,347.6 L355.2,348.2 L356.8,348.7 L358.4,349.2 L359.9,349.8 L361.5,350.3 L363.1,350.9 L364.7,351.4 L366.2,352.0 L367.8,352.5 L369.4,353.1 L371.0,353.6 L372.5,354.1 L374.1,354.6 L375.7,355.1 L377.3,355.6 L378.9,356.1 L380.5,356.6 L382.1,357.0 L383.7,357.5 L385.3,357.9 L386.9,358.3 L388.5,358.7 L390.1,359.1 L391.7,359.4 L393.4,359.8 L395.0,360.1 L396.6,360.5 L398.2,360.8 L399.9,361.1 L401.5,361.4 L403.1,361.7 L404.8,361.9 L406.4,362.2 L408.1,362.5 L409.7,362.7 L411.4,362.9 L413.0,363.2 L414.7,363.4 L416.3,363.6 L418.0,363.8 L419.6,364.0 L421.3,364.1 L422.9,364.3 L424.6,364.5 L426.3,364.6 L427.9,364.8 L429.6,364.9 L431.2,365.1 L432.9,365.2 L434.6,365.3 L436.2,365.4 L437.9,365.6 L439.6,365.7 L441.2,365.8 L442.9,365.9 L444.6,366.0 L446.2,366.1 L447.9,366.1 L449.6,366.2 L451.2,366.3 L452.9,366.4 L454.6,366.5 L456.2,366.5 L457.9,366.6 L459.6,366.7 L461.2,366.7 L462.9,366.8 L464.6,366.8 L466.2,366.9 L467.9,366.9 L469.6,367.0 L471.2,367.0 L472.9,367.0 L474.6,367.1 L476.2,367.1 L477.9,367.1 L479.6,367.2 L481.2,367.2 L482.9,367.2 L484.6,367.3 L486.3,367.3 L487.9,367.3 L489.6,367.3 L491.3,367.3 L492.9,367.4 L494.6,367.4 L496.3,367.4 L497.9,367.4 L499.6,367.4 L501.3,367.4 L502.9,367.4 L504.6,367.5 L506.3,367.5 L507.9,367.5 L509.6,367.5 L511.3,367.5 L512.9,367.5 L514.6,367.5 L516.3,367.5 L517.9,367.6 L519.6,367.6 L521.3,367.6 L522.9,367.6 L524.6,367.6 L526.3,367.6 L527.9,367.7 L529.6,367.7 L531.3,367.7 L532.9,367.7 L534.6,367.8 L536.2,367.8 L537.9,367.8 L539.6,367.8 L541.2,367.9 L542.9,367.9 L544.6,368.0 L546.2,368.0 L546.5,368.0" stroke="#bfbf00"/>
<path d="M328.0,325.8 L329.7,325.9 L331.4,326.1 L333.1,326.5 L334.7,326.9 L336.3,327.3 L337.9,327.9 L339.5,328.5 L341.0,329.2 L342.5,329.9 L344.0,330.7 L345.5,331.5 L347.0,332.3 L348.5,333.2 L349.9,334.1 L351.3,335.1 L352.8,336.0 L354.2,337.0 L355.7,337.9 L357.1,338.9 L358.5,339.8 L360.0,340.8 L361.4,341.7 L362.9,342.6 L364.3,343.6 L365.8,344.5 L367.2,345.4 L368.7,346.3 L370.1,347.2 L371.6,348.0 L373.1,348.9 L374.6,349.7 L376.1,350.5 L377.6,351.3 L379.1,352.0 L380.7,352.7 L382.2,353.4 L383.8,354.1 L385.3,354.7 L386.9,355.4 L388.5,356.0 L390.1,356.5 L391.7,357.1 L393.3,357.6 L394.9,358.1 L396.6,358.6 L398.2,359.1 L399.8,359.6 L401.5,360.0 L403.1,360.4 L404.8,360.8 L406.5,361.2 L408.1,361.6 L409.8,361.9 L411.5,362.3 L413.2,362.6 L414.9,362.9 L416.6,363.2 L418.3,363.5 L420.0,363.7 L421.7,364.0 L423.4,364.2 L425.1,364.5 L426.8,364.7 L428.5,364.9 L430.2,365.2 L431.9,365.4 L433.6,365.6 L435.3,365.8 L437.0,366.0 L438.7,366.1 L440.4,366.3 L442.1,366.5 L443.9,366.7 L445.6,366.8 L447.3,367.0 L449.0,367.1 L450.7,367.3 L452.4,367.4 L454.1,367.5 L455.8,367.7 L457.5,367.8 L459.2,367.9 L460.9,368.0 L462.6,368.1 L464.3,368.2 L466.0,368.4 L467.7,368.4 L469.4,368.5 L471.1,368.6 L472.8,368.7 L474.5,368.8 L476.2,368.9 L477.9,368.9 L479.6,369.0 L481.3,369.1 L483.0,369.1 L484.7,369.2 L486.4,369.3 L488.1,369.3 L489.8,369.4 L491.5,369.4 L493.2,369.5 L494.9,369.5 L496.6,369.5 L498.3,369.6 L500.1,369.6 L501.8,369.6 L503.5,369.7 L505.2,369.7 L506.9,369.7 L508.6,369.7 L510.3,369.8 L512.0,369.8 L513.7,369.8 L515.4,369.8 L517.1,369.8 L518.8,369.8 L520.5,369.9 L522.2,369.9 L523.9,369.9 L525.7,369.9 L527.4,369.9 L529.1,369.9 L530.8,369.9 L532.5,369.9 L534.2,369.9 L535.9,369.9 L537.6,369.9 L539.3,369.9 L541.1,369.9 L542.8,369.9 L544.5,369.9 L546.2,369.9 L546.5,369.9" stroke="#000000"/>
<path d="M328.0,309.8 L329.7,310.0 L331.4,310.2 L333.1,310.5 L334.7,310.8 L336.4,311.2 L338.0,311.7 L339.6,312.2 L341.2,312.7 L342.7,313.3 L344.3,313.9 L345.9,314.6 L347.4,315.3 L348.9,316.0 L350.5,316.8 L352.0,317.5 L353.5,318.3 L355.0,319.1 L356.5,319.9 L358.0,320.8 L359.5,321.6 L361.0,322.4 L362.5,323.3 L364.0,324.1 L365.5,325.0 L367.0,325.9 L368.5,326.7 L369.9,327.6 L371.4,328.4 L372.9,329.2 L374.5,330.1 L376.0,330.9 L377.5,331.7 L379.0,332.5 L380.5,333.2 L382.1,334.0 L383.6,334.7 L385.2,335.4 L386.7,336.1 L388.3,336.8 L389.8,337.5 L391.4,338.2 L393.0,338.8 L394.6,339.4 L396.2,340.0 L397.8,340.6 L399.4,341.2 L401.0,341.7 L402.6,342.3 L404.2,342.8 L405.8,343.3 L407.4,343.8 L409.1,344.3 L410.7,344.8 L412.3,345.2 L414.0,345.7 L415.6,346.1 L417.3,346.5 L418.9,346.9 L420.6,347.3 L422.2,347.7 L423.9,348.1 L425.6,348.4 L427.2,348.8 L428.9,349.1 L430.6,349.4 L432.2,349.8 L433.9,350.1 L435.6,350.3 L437.3,350.6 L439.0,350.9 L440.6,351.2 L442.3,351.4 L444.0,351.6 L445.7,351.9 L447.4,352.1 L449.1,352.3 L450.8,352.5 L452.5,352.7 L454.2,352.9 L455.8,353.1 L457.5,353.2 L459.2,353.4 L460.9,353.5 L462.6,353.7 L464.3,353.8 L466.0,354.0 L467.7,354.1 L469.5,354.2 L471.2,354.3 L472.9,354.4 L474.6,354.5 L476.3,354.6 L478.0,354.7 L479.7,354.8 L481.4,354.9 L483.1,355.0 L484.8,355.0 L486.5,355.1 L488.2,355.2 L489.9,355.2 L491.7,355.3 L493.4,355.3 L495.1,355.4 L496.8,355.4 L498.5,355.5 L500.2,355.5 L501.9,355.5 L503.6,355.6 L505.3,355.6 L507.1,355.6 L508.8,355.7 L510.5,355.7 L512.2,355.7 L513.9,355.8 L515.6,355.8 L517.3,355.8 L519.0,355.8 L520.7,355.9 L522.4,355.9 L524.1,355.9 L525.8,355.9 L527.5,356.0 L529.2,356.0 L530.9,356.0 L532.6,356.1 L534.3,356.1 L536.0,356.1 L537.7,356.2 L539.4,356.2 L541.1,356.2 L542.8,356.3 L544.5,356.3 L546.2,356.4 L546.5,356.4" stroke="#0000ff" stroke-dasharray="9.75 9.75" stroke-dashoffset="0" stroke-linecap="round"/>
<path d="M328.0,207.5 L329.7,207.9 L331.2,208.5 L332.7,209.3 L334.0,210.2 L335.2,211.3 L336.3,212.4 L337.4,213.7 L338.4,215.0 L339.4,216.4 L340.3,217.8 L341.2,219.3 L342.1,220.7 L343.0,222.2 L343.9,223.7 L344.8,225.2 L345.6,226.7 L346.5,228.2 L347.3,229.7 L348.1,231.2 L349.0,232.7 L349.8,234.2 L350.6,235.7 L351.4,237.1 L352.3,238.6 L353.1,240.1 L353.9,241.6 L354.7,243.0 L355.6,244.5 L356.4,246.0 L357.3,247.4 L358.1,248.8 L359.0,250.3 L359.8,251.7 L360.7,253.1 L361.6,254.5 L362.5,255.9 L363.4,257.3 L364.3,258.7 L365.3,260.1 L366.2,261.5 L367.2,262.8 L368.2,264.2 L369.2,265.5 L370.2,266.9 L371.3,268.2 L372.3,269.5 L373.4,270.8 L374.4,272.1 L375.5,273.4 L376.7,274.7 L377.8,275.9 L378.9,277.2 L380.1,278.4 L381.2,279.6 L382.4,280.9 L383.6,282.1 L384.8,283.3 L386.0,284.4 L387.3,285.6 L388.5,286.8 L389.8,287.9 L391.0,289.0 L392.3,290.1 L393.6,291.2 L394.9,292.3 L396.2,293.4 L397.6,294.4 L398.9,295.5 L400.3,296.5 L401.6,297.5 L403.0,298.5 L404.4,299.5 L405.8,300.4 L407.2,301.4 L408.6,302.3 L410.0,303.2 L411.4,304.1 L412.9,305.0 L414.3,305.9 L415.8,306.7 L417.2,307.5 L418.7,308.4 L420.2,309.1 L421.7,309.9 L423.2,310.7 L424.7,311.4 L426.2,312.1 L427.7,312.9 L429.3,313.5 L430.8,314.2 L432.3,314.9 L433.9,315.5 L435.4,316.2 L437.0,316.8 L438.6,317.4 L440.1,318.0 L441.7,318.5 L443.3,319.1 L444.9,319.6 L446.5,320.1 L448.1,320.6 L449.7,321.1 L451.3,321.6 L452.9,322.1 L454.6,322.6 L456.2,323.0 L457.8,323.4 L459.5,323.8 L461.1,324.3 L462.7,324.6 L464.4,325.0 L466.0,325.4 L467.7,325.8 L469.4,326.1 L471.0,326.4 L472.7,326.8 L474.4,327.1 L476.0,327.4 L477.7,327.7 L479.4,327.9 L481.1,328.2 L482.7,328.5 L484.4,328.7 L486.1,329.0 L487.8,329.2 L489.5,329.4 L491.2,329.6 L492.9,329.8 L494.6,330.0 L496.3,330.2 L498.0,330.4 L499.7,330.6 L501.4,330.7 L503.1,330.9 L504.8,331.0 L506.4,331.2 L508.1,331.3 L509.8,331.4 L511.5,331.5 L513.2,331.7 L514.9,331.8 L516.6,331.9 L518.3,332.0 L520.0,332.0 L521.7,332.1 L523.4,332.2 L525.1,332.3 L526.8,332.3 L528.5,332.4 L530.1,332.5 L531.8,332.5 L533.5,332.6 L535.2,332.6 L536.9,332.6 L538.5,332.7 L540.2,332.7 L541.9,332.7 L543.5,332.8 L545.2,332.8 L546.5,332.8" stroke="#008000" stroke-dasharray="9.75 9.75" stroke-dashoffset="0" stroke-linecap="round"/>
<path d="M327.8,368.7 L329.6,368.9 L331.4,369.1 L333.3,369.2 L335.1,369.4 L336.9,369.6 L338.7,369.8 L340.6,370.0 L342.4,370.2 L344.2,370.3 L346.0,370.5 L347.9,370.7 L349.7,370.9 L351.5,371.1 L353.3,371.2 L355.2,371.4 L357.0,371.6 L358.8,371.7 L360.6,371.9 L362.4,372.1 L364.3,372.3 L366.1,372.4 L367.9,372.6 L369.7,372.7 L371.6,372.9 L373.4,373.1 L375.2,373.3 L377.0,373.4 L378.9,373.6 L380.7,373.8 L382.5,374.0 L384.3,374.1 L386.2,374.3 L388.0,374.5 L389.8,374.7 L391.6,374.8 L393.4,375.0 L395.3,375.1 L397.1,375.3 L398.9,375.4 L400.7,375.5 L402.6,375.7 L404.4,375.8 L406.2,375.9 L408.0,376.0 L409.9,376.1 L411.7,376.1 L413.5,376.2 L415.3,376.3 L417.1,376.4 L419.0,376.4 L420.8,376.5 L422.6,376.5 L424.4,376.6 L426.3,376.7 L428.1,376.7 L429.9,376.8 L431.7,376.8 L433.6,376.9 L435.4,376.9 L437.2,377.0 L439.0,377.0 L440.9,377.0 L442.7,377.1 L444.5,377.1 L446.3,377.2 L448.1,377.2 L450.0,377.2 L451.8,377.3 L453.6,377.3 L455.4,377.3 L457.3,377.4 L459.1,377.4 L460.9,377.5 L462.7,377.5 L464.6,377.5 L466.4,377.6 L468.2,377.6 L470.0,377.6 L471.9,377.7 L473.7,377.7 L475.5,377.7 L477.3,377.8 L479.1,377.8 L481.0,377.8 L482.8,377.8 L484.6,377.9 L486.4,377.9 L488.3,377.9 L490.1,378.0 L491.9,378.0 L493.7,378.0 L495.6,378.1 L497.4,378.1 L499.2,378.1 L501.0,378.1 L502.9,378.2 L504.7,378.2 L506.5,378.2 L508.3,378.2 L510.1,378.3 L512.0,378.3 L513.8,378.3 L515.6,378.3 L517.4,378.3 L519.3,378.4 L521.1,378.4 L522.9,378.4 L524.7,378.4 L526.6,378.4 L528.4,378.4 L530.2,378.4 L532.0,378.5 L533.9,378.5 L535.7,378.5 L537.5,378.5 L539.3,378.5 L541.1,378.5 L543.0,378.5 L544.8,378.5 L546.2,378.5" stroke="#ff0000" stroke-dasharray="9.75 9.75" stroke-dashoffset="0" stroke-linecap="round"/>
</g>
<clipPath id="cpc"><rect x="605.85" y="34.75" width="218.45" height="349.29"/></clipPath>
<g clip-path="url(#cpc)" fill="none" stroke-width="6.5" stroke-linejoin="round">
<path d="M606.0,327.3 L607.5,327.6 L609.2,328.0 L610.9,328.6 L612.5,329.3 L614.0,330.0 L615.5,330.9 L616.9,331.8 L618.3,332.8 L619.6,333.9 L621.0,335.0 L622.2,336.2 L623.5,337.4 L624.8,338.6 L626.0,339.9 L627.2,341.2 L628.5,342.5 L629.7,343.8 L631.0,345.0 L632.2,346.3 L633.5,347.6 L634.7,348.8 L636.0,350.1 L637.3,351.3 L638.6,352.5 L639.9,353.7 L641.3,354.8 L642.6,355.9 L644.0,357.0 L645.4,358.1 L646.8,359.2 L648.2,360.2 L649.6,361.1 L651.1,362.1 L652.5,363.0 L654.0,363.8 L655.5,364.7 L657.1,365.4 L658.6,366.2 L660.2,366.9 L661.7,367.6 L663.3,368.2 L664.9,368.9 L666.6,369.4 L668.2,370.0 L669.8,370.5 L671.5,371.0 L673.2,371.5 L674.9,371.9 L676.6,372.4 L678.3,372.8 L680.0,373.1 L681.7,373.5 L683.5,373.8 L685.2,374.1 L686.9,374.4 L688.7,374.7 L690.4,375.0 L692.2,375.2 L694.0,375.4 L695.7,375.7 L697.5,375.9 L699.3,376.1 L701.1,376.2 L702.8,376.4 L704.6,376.6 L706.4,376.8 L708.2,376.9 L709.9,377.1 L711.7,377.2 L713.5,377.4 L715.3,377.5 L717.0,377.6 L718.8,377.8 L720.5,377.9 L722.3,378.0 L724.1,378.1 L725.8,378.2 L727.6,378.3 L729.3,378.5 L731.1,378.6 L732.8,378.7 L734.6,378.8 L736.3,378.8 L738.1,378.9 L739.8,379.0 L741.6,379.1 L743.3,379.2 L745.1,379.3 L746.8,379.3 L748.6,379.4 L750.3,379.5 L752.1,379.5 L753.8,379.6 L755.6,379.7 L757.3,379.7 L759.0,379.8 L760.8,379.8 L762.5,379.9 L764.3,379.9 L766.0,380.0 L767.8,380.0 L769.5,380.1 L771.2,380.1 L773.0,380.1 L774.7,380.2 L776.5,380.2 L778.2,380.3 L780.0,380.3 L781.7,380.3 L783.4,380.3 L785.2,380.4 L786.9,380.4 L788.7,380.4 L790.4,380.4 L792.2,380.5 L793.9,380.5 L795.7,380.5 L797.4,380.5 L799.2,380.6 L801.0,380.6 L802.7,380.6 L804.5,380.6 L806.2,380.6 L808.0,380.6 L809.7,380.7 L811.5,380.7 L813.3,380.7 L815.0,380.7 L816.8,380.7 L818.6,380.7 L820.4,380.8 L822.1,380.8 L823.9,380.8 L824.5,380.8" stroke="#0000ff"/>
<path d="M605.9,380.3 L607.7,380.3 L609.5,380.3 L611.3,380.3 L613.1,380.4 L615.0,380.4 L616.8,380.4 L618.6,380.5 L620.4,380.5 L622.3,380.5 L624.1,380.6 L625.9,380.6 L627.7,380.7 L629.6,380.7 L631.4,380.8 L633.2,380.9 L635.0,381.0 L636.8,381.0 L638.7,381.1 L640.5,381.2 L642.3,381.3 L644.1,381.4 L646.0,381.4 L647.8,381.5 L649.6,381.6 L651.4,381.6 L653.3,381.7 L655.1,381.8 L656.9,381.8 L658.7,381.9 L660.6,382.0 L662.4,382.0 L664.2,382.1 L666.0,382.2 L667.8,382.2 L669.7,382.3 L671.5,382.3 L673.3,382.4 L675.1,382.5 L677.0,382.5 L678.8,382.6 L680.6,382.6 L682.4,382.7 L684.3,382.7 L686.1,382.8 L687.9,382.8 L689.7,382.8 L691.6,382.9 L693.4,382.9 L695.2,382.9 L697.0,383.0 L698.8,383.0 L700.7,383.0 L702.5,383.0 L704.3,383.0 L706.1,383.1 L708.0,383.1 L709.8,383.1 L711.6,383.1 L713.4,383.1 L715.3,383.1 L717.1,383.1 L718.9,383.2 L720.7,383.2 L722.6,383.2 L724.4,383.2 L726.2,383.2 L728.0,383.2 L729.8,383.2 L731.7,383.3 L733.5,383.3 L735.3,383.3 L737.1,383.3 L739.0,383.3 L740.8,383.3 L742.6,383.3 L744.4,383.3 L746.3,383.4 L748.1,383.4 L749.9,383.4 L751.7,383.4 L753.5,383.4 L755.4,383.4 L757.2,383.4 L759.0,383.4 L760.8,383.4 L762.7,383.4 L764.5,383.5 L766.3,383.5 L768.1,383.5 L770.0,383.5 L771.8,383.5 L773.6,383.5 L775.4,383.5 L777.3,383.5 L779.1,383.5 L780.9,383.5 L782.7,383.5 L784.5,383.5 L786.4,383.5 L788.2,383.5 L790.0,383.6 L791.8,383.6 L793.7,383.6 L795.5,383.6 L797.3,383.6 L799.1,383.6 L801.0,383.6 L802.8,383.6 L804.6,383.6 L806.4,383.6 L808.3,383.6 L810.1,383.6 L811.9,383.6 L813.7,383.6 L815.5,383.6 L817.4,383.6 L819.2,383.6 L821.0,383.6 L822.8,383.6 L824.3,383.6" stroke="#008000"/>
<path d="M606.0,376.8 L607.5,377.6 L609.0,377.8 L610.6,377.6 L612.1,377.3 L613.7,376.9 L615.2,376.5 L616.8,376.2 L618.4,376.1 L620.0,376.2 L621.6,376.5 L623.2,376.9 L624.8,377.4 L626.4,377.9 L628.1,378.3 L629.7,378.7 L631.3,379.0 L632.9,379.3 L634.5,379.6 L636.2,379.9 L637.8,380.1 L639.4,380.3 L641.1,380.5 L642.7,380.7 L644.4,380.8 L646.0,381.0 L647.6,381.1 L649.3,381.2 L650.9,381.3 L652.6,381.4 L654.2,381.4 L655.9,381.5 L657.5,381.6 L659.2,381.6 L660.8,381.7 L662.5,381.7 L664.1,381.8 L665.8,381.8 L667.4,381.9 L669.1,381.9 L670.7,382.0 L672.4,382.0 L674.0,382.1 L675.7,382.1 L677.3,382.2 L679.0,382.2 L680.6,382.3 L682.3,382.3 L683.9,382.4 L685.6,382.4 L687.2,382.4 L688.9,382.5 L690.5,382.5 L692.2,382.6 L693.8,382.6 L695.5,382.6 L697.1,382.7 L698.8,382.7 L700.4,382.7 L702.1,382.8 L703.7,382.8 L705.4,382.8 L707.0,382.9 L708.7,382.9 L710.3,382.9 L712.0,382.9 L713.6,383.0 L715.3,383.0 L716.9,383.0 L718.6,383.0 L720.2,383.1 L721.9,383.1 L723.5,383.1 L725.2,383.1 L726.8,383.1 L728.5,383.2 L730.1,383.2 L731.8,383.2 L733.4,383.2 L735.1,383.2 L736.7,383.2 L738.4,383.3 L740.0,383.3 L741.7,383.3 L743.3,383.3 L745.0,383.3 L746.6,383.3 L748.3,383.3 L749.9,383.3 L751.6,383.4 L753.2,383.4 L754.9,383.4 L756.5,383.4 L758.2,383.4 L759.8,383.4 L761.5,383.4 L763.1,383.4 L764.8,383.4 L766.5,383.4 L768.1,383.4 L769.8,383.4 L771.4,383.4 L773.1,383.5 L774.7,383.5 L776.4,383.5 L778.0,383.5 L779.7,383.5 L781.3,383.5 L783.0,383.5 L784.6,383.5 L786.3,383.5 L787.9,383.5 L789.6,383.5 L791.2,383.5 L792.9,383.5 L794.5,383.5 L796.2,383.5 L797.8,383.5 L799.5,383.5 L801.1,383.5 L802.8,383.5 L804.4,383.5 L806.1,383.5 L807.7,383.5 L809.4,383.5 L811.0,383.6 L812.7,383.6 L814.3,383.6 L816.0,383.6 L817.6,383.6 L819.3,383.6 L820.9,383.6 L822.6,383.6 L824.2,383.6 L824.5,383.6" stroke="#ff0000"/>
<path d="M605.9,384.5 L607.7,384.5 L609.5,384.5 L611.3,384.5 L613.1,384.5 L615.0,384.5 L616.8,384.5 L618.6,384.5 L620.4,384.5 L622.3,384.5 L624.1,384.5 L625.9,384.5 L627.7,384.5 L629.6,384.5 L631.4,384.5 L633.2,384.5 L635.0,384.5 L636.8,384.5 L638.7,384.5 L640.5,384.5 L642.3,384.5 L644.1,384.5 L646.0,384.5 L647.8,384.5 L649.6,384.5 L651.4,384.5 L653.3,384.5 L655.1,384.5 L656.9,384.5 L658.7,384.5 L660.6,384.5 L662.4,384.5 L664.2,384.5 L666.0,384.5 L667.8,384.5 L669.7,384.5 L671.5,384.5 L673.3,384.5 L675.1,384.5 L677.0,384.5 L678.8,384.5 L680.6,384.5 L682.4,384.5 L684.3,384.5 L686.1,384.5 L687.9,384.5 L689.7,384.5 L691.6,384.5 L693.4,384.5 L695.2,384.5 L697.0,384.5 L698.8,384.5 L700.7,384.5 L702.5,384.5 L704.3,384.5 L706.1,384.5 L708.0,384.5 L709.8,384.5 L711.6,384.5 L713.4,384.5 L715.3,384.5 L717.1,384.5 L718.9,384.5 L720.7,384.5 L722.6,384.5 L724.4,384.5 L726.2,384.5 L728.0,384.5 L729.8,384.5 L731.7,384.5 L733.5,384.5 L735.3,384.5 L737.1,384.5 L739.0,384.5 L740.8,384.5 L742.6,384.5 L744.4,384.5 L746.3,384.5 L748.1,384.5 L749.9,384.5 L751.7,384.5 L753.5,384.5 L755.4,384.5 L757.2,384.5 L759.0,384.5 L760.8,384.5 L762.7,384.5 L764.5,384.5 L766.3,384.5 L768.1,384.5 L770.0,384.5 L771.8,384.5 L773.6,384.5 L775.4,384.5 L777.3,384.5 L779.1,384.5 L780.9,384.5 L782.7,384.5 L784.5,384.5 L786.4,384.5 L788.2,384.5 L790.0,384.5 L791.8,384.5 L793.7,384.5 L795.5,384.5 L797.3,384.5 L799.1,384.5 L801.0,384.5 L802.8,384.5 L804.6,384.5 L806.4,384.5 L808.3,384.5 L810.1,384.5 L811.9,384.5 L813.7,384.5 L815.5,384.5 L817.4,384.5 L819.2,384.5 L821.0,384.5 L822.8,384.5 L824.3,384.5" stroke="#00bfbf"/>
<path d="M606.0,370.3 L606.9,371.8 L608.3,372.7 L609.9,372.7 L611.4,372.3 L612.9,371.7 L614.5,371.1 L616.0,370.7 L617.6,370.5 L619.2,370.7 L620.8,371.2 L622.4,371.8 L624.0,372.5 L625.6,373.1 L627.2,373.6 L628.8,374.0 L630.4,374.4 L632.0,374.8 L633.6,375.1 L635.3,375.4 L636.9,375.7 L638.5,376.0 L640.1,376.3 L641.8,376.6 L643.4,376.8 L645.1,377.1 L646.7,377.3 L648.4,377.5 L650.0,377.8 L651.7,378.0 L653.3,378.2 L655.0,378.4 L656.6,378.5 L658.3,378.7 L659.9,378.9 L661.6,379.1 L663.2,379.2 L664.9,379.4 L666.6,379.5 L668.2,379.7 L669.9,379.8 L671.5,380.0 L673.2,380.1 L674.8,380.2 L676.5,380.4 L678.2,380.5 L679.8,380.6 L681.5,380.7 L683.1,380.8 L684.8,380.9 L686.5,381.1 L688.1,381.2 L689.8,381.2 L691.4,381.3 L693.1,381.4 L694.8,381.5 L696.4,381.6 L698.1,381.7 L699.7,381.8 L701.4,381.8 L703.1,381.9 L704.7,382.0 L706.4,382.0 L708.1,382.1 L709.7,382.2 L711.4,382.2 L713.0,382.3 L714.7,382.3 L716.4,382.4 L718.0,382.5 L719.7,382.5 L721.4,382.6 L723.0,382.6 L724.7,382.6 L726.3,382.7 L728.0,382.7 L729.7,382.8 L731.3,382.8 L733.0,382.8 L734.7,382.9 L736.3,382.9 L738.0,382.9 L739.7,383.0 L741.3,383.0 L743.0,383.0 L744.6,383.1 L746.3,383.1 L748.0,383.1 L749.6,383.1 L751.3,383.2 L753.0,383.2 L754.6,383.2 L756.3,383.2 L758.0,383.2 L759.6,383.3 L761.3,383.3 L762.9,383.3 L764.6,383.3 L766.3,383.3 L767.9,383.3 L769.6,383.3 L771.3,383.4 L772.9,383.4 L774.6,383.4 L776.3,383.4 L777.9,383.4 L779.6,383.4 L781.2,383.4 L782.9,383.4 L784.6,383.4 L786.2,383.4 L787.9,383.4 L789.6,383.4 L791.2,383.5 L792.9,383.5 L794.6,383.5 L796.2,383.5 L797.9,383.5 L799.5,383.5 L801.2,383.5 L802.9,383.5 L804.5,383.5 L806.2,383.5 L807.9,383.5 L809.5,383.5 L811.2,383.5 L812.9,383.5 L814.5,383.5 L816.2,383.6 L817.8,383.6 L819.5,383.6 L821.2,383.6 L822.8,383.6 L824.5,383.6" stroke="#bf00bf"/>
<path d="M605.9,384.2 L607.7,384.2 L609.5,384.2 L611.3,384.2 L613.1,384.2 L615.0,384.2 L616.8,384.2 L618.6,384.2 L620.4,384.2 L622.3,384.2 L624.1,384.2 L625.9,384.2 L627.7,384.2 L629.6,384.2 L631.4,384.2 L633.2,384.2 L635.0,384.2 L636.8,384.2 L638.7,384.2 L640.5,384.2 L642.3,384.2 L644.1,384.2 L646.0,384.2 L647.8,384.2 L649.6,384.2 L651.4,384.2 L653.3,384.2 L655.1,384.2 L656.9,384.2 L658.7,384.2 L660.6,384.2 L662.4,384.2 L664.2,384.2 L666.0,384.2 L667.8,384.2 L669.7,384.2 L671.5,384.2 L673.3,384.2 L675.1,384.2 L677.0,384.2 L678.8,384.2 L680.6,384.2 L682.4,384.2 L684.3,384.2 L686.1,384.2 L687.9,384.2 L689.7,384.2 L691.6,384.2 L693.4,384.2 L695.2,384.2 L697.0,384.2 L698.8,384.2 L700.7,384.2 L702.5,384.2 L704.3,384.2 L706.1,384.2 L708.0,384.2 L709.8,384.2 L711.6,384.2 L713.4,384.2 L715.3,384.3 L717.1,384.3 L718.9,384.3 L720.7,384.3 L722.6,384.3 L724.4,384.3 L726.2,384.3 L728.0,384.3 L729.8,384.3 L731.7,384.3 L733.5,384.3 L735.3,384.3 L737.1,384.3 L739.0,384.3 L740.8,384.3 L742.6,384.3 L744.4,384.3 L746.3,384.3 L748.1,384.3 L749.9,384.3 L751.7,384.3 L753.5,384.3 L755.4,384.3 L757.2,384.3 L759.0,384.3 L760.8,384.3 L762.7,384.3 L764.5,384.3 L766.3,384.3 L768.1,384.3 L770.0,384.3 L771.8,384.3 L773.6,384.3 L775.4,384.3 L777.3,384.3 L779.1,384.3 L780.9,384.3 L782.7,384.3 L784.5,384.3 L786.4,384.3 L788.2,384.3 L790.0,384.3 L791.8,384.3 L793.7,384.3 L795.5,384.3 L797.3,384.3 L799.1,384.3 L801.0,384.3 L802.8,384.3 L804.6,384.3 L806.4,384.3 L808.3,384.3 L810.1,384.3 L811.9,384.3 L813.7,384.3 L815.5,384.3 L817.4,384.3 L819.2,384.3 L821.0,384.3 L822.8,384.3 L824.3,384.3" stroke="#bfbf00"/>
<path d="M605.9,384.0 L607.3,384.4 L608.8,384.9 L610.2,385.3 L612.0,385.5 L613.9,385.5 L615.7,385.5 L617.5,385.5 L619.3,385.5 L621.2,385.6 L623.0,385.6 L624.8,385.6 L626.6,385.6 L628.5,385.6 L630.3,385.6 L632.1,385.6 L633.9,385.6 L635.8,385.6 L637.6,385.7 L639.4,385.7 L641.2,385.7 L643.0,385.7 L644.9,385.7 L646.7,385.7 L648.5,385.7 L650.3,385.7 L652.2,385.7 L654.0,385.7 L655.8,385.7 L657.6,385.7 L659.5,385.8 L661.3,385.8 L663.1,385.8 L664.9,385.8 L666.8,385.8 L668.6,385.8 L670.4,385.8 L672.2,385.8 L674.0,385.8 L675.9,385.8 L677.7,385.8 L679.5,385.8 L681.3,385.8 L683.2,385.8 L685.0,385.8 L686.8,385.9 L688.6,385.9 L690.5,385.9 L692.3,385.9 L694.1,385.9 L695.9,385.9 L697.8,385.9 L699.6,385.9 L701.4,385.9 L703.2,385.9 L705.0,385.9 L706.9,385.9 L708.7,385.9 L710.5,385.9 L712.3,385.9 L714.2,385.9 L716.0,385.9 L717.8,385.9 L719.6,385.9 L721.5,385.9 L723.3,385.9 L725.1,385.9 L726.9,385.9 L728.8,385.9 L730.6,385.9 L732.4,386.0 L734.2,386.0 L736.0,386.0 L737.9,386.0 L739.7,386.0 L741.5,386.0 L743.3,386.0 L745.2,386.0 L747.0,386.0 L748.8,386.0 L750.6,386.0 L752.5,386.0 L754.3,386.0 L756.1,386.0 L757.9,386.0 L759.7,386.0 L761.6,386.0 L763.4,386.0 L765.2,386.0 L767.0,386.0 L768.9,386.0 L770.7,386.0 L772.5,386.0 L774.3,386.0 L776.2,386.0 L778.0,386.0 L779.8,386.0 L781.6,386.0 L783.5,386.0 L785.3,386.0 L787.1,386.0 L788.9,386.0 L790.7,386.0 L792.6,386.0 L794.4,386.0 L796.2,386.0 L798.0,386.0 L799.9,386.0 L801.7,386.0 L803.5,386.0 L805.3,386.0 L807.2,386.0 L809.0,386.0 L810.8,386.0 L812.6,386.0 L814.5,386.0 L816.3,386.0 L818.1,386.0 L819.9,386.0 L821.7,386.0 L823.6,386.0 L824.3,386.0" stroke="#000000"/>
<path d="M606.0,35.0 L606.3,36.8 L606.5,38.6 L606.7,40.5 L606.9,42.3 L607.1,44.1 L607.3,45.9 L607.4,47.8 L607.6,49.6 L607.7,51.4 L607.9,53.3 L608.0,55.1 L608.2,56.9 L608.3,58.8 L608.4,60.6 L608.6,62.4 L608.8,64.3 L608.9,66.1 L609.1,67.9 L609.3,69.7 L609.6,71.5 L609.8,73.3 L610.0,75.1 L610.3,77.0 L610.5,78.8 L610.8,80.6 L611.1,82.4 L611.3,84.2 L611.6,86.0 L611.9,87.8 L612.1,89.6 L612.4,91.4 L612.7,93.2 L612.9,95.1 L613.2,96.9 L613.4,98.7 L613.7,100.5 L613.9,102.3 L614.1,104.2 L614.3,106.0 L614.6,107.8 L614.8,109.7 L615.0,111.5 L615.2,113.3 L615.4,115.2 L615.6,117.0 L615.8,118.8 L616.0,120.7 L616.2,122.5 L616.4,124.3 L616.5,126.2 L616.7,128.0 L616.9,129.9 L617.1,131.7 L617.2,133.5 L617.4,135.4 L617.6,137.2 L617.8,139.1 L617.9,140.9 L618.1,142.8 L618.3,144.6 L618.4,146.4 L618.6,148.3 L618.7,150.1 L618.9,152.0 L619.1,153.8 L619.2,155.6 L619.4,157.5 L619.6,159.3 L619.7,161.1 L619.9,163.0 L620.0,164.8 L620.2,166.6 L620.4,168.4 L620.6,170.3 L620.7,172.1 L620.9,173.9 L621.1,175.7 L621.2,177.6 L621.4,179.4 L621.6,181.2 L621.8,183.0 L622.0,184.9 L622.1,186.7 L622.3,188.5 L622.5,190.3 L622.7,192.1 L622.9,193.9 L623.1,195.8 L623.3,197.6 L623.5,199.4 L623.7,201.2 L623.9,203.0 L624.1,204.8 L624.3,206.6 L624.5,208.4 L624.7,210.3 L624.9,212.1 L625.1,213.9 L625.3,215.7 L625.6,217.5 L625.8,219.3 L626.0,221.1 L626.2,222.9 L626.5,224.8 L626.7,226.6 L627.0,228.4 L627.2,230.2 L627.4,232.0 L627.7,233.8 L628.0,235.6 L628.2,237.5 L628.5,239.3 L628.7,241.1 L629.0,242.9 L629.3,244.7 L629.6,246.5 L629.8,248.3 L630.1,250.2 L630.4,252.0 L630.7,253.8 L631.0,255.6 L631.3,257.4 L631.6,259.3 L631.9,261.1 L632.2,262.9 L632.6,264.7 L632.9,266.6 L633.2,268.4 L633.6,270.2 L633.9,272.1 L634.2,273.9 L634.6,275.7 L635.0,277.5 L635.3,279.4 L635.7,281.2 L636.1,283.1 L636.4,284.9 L636.8,286.7 L637.2,288.6 L637.6,290.4 L638.0,292.2 L638.5,294.0 L638.9,295.9 L639.4,297.7 L639.8,299.5 L640.3,301.3 L640.8,303.1 L641.3,304.9 L641.8,306.7 L642.4,308.4 L643.0,310.2 L643.6,311.9 L644.2,313.7 L644.8,315.4 L645.4,317.1 L646.1,318.8 L646.8,320.5 L647.5,322.2 L648.3,323.8 L649.1,325.5 L649.9,327.1 L650.7,328.7 L651.6,330.3 L652.5,331.9 L653.4,333.4 L654.3,334.9 L655.3,336.4 L656.4,337.9 L657.4,339.4 L658.5,340.8 L659.6,342.2 L660.8,343.6 L662.0,345.0 L663.2,346.3 L664.4,347.7 L665.7,348.9 L667.0,350.2 L668.3,351.5 L669.7,352.7 L671.0,353.9 L672.4,355.0 L673.9,356.2 L675.3,357.3 L676.8,358.3 L678.3,359.4 L679.8,360.4 L681.3,361.4 L682.9,362.4 L684.5,363.3 L686.1,364.2 L687.7,365.0 L689.3,365.9 L691.0,366.7 L692.6,367.5 L694.3,368.2 L696.0,368.9 L697.7,369.6 L699.4,370.2 L701.1,370.8 L702.9,371.4 L704.6,371.9 L706.4,372.4 L708.2,372.9 L709.9,373.3 L711.7,373.7 L713.5,374.1 L715.3,374.5 L717.1,374.8 L718.9,375.1 L720.8,375.3 L722.6,375.6 L724.4,375.8 L726.3,376.0 L728.1,376.2 L730.0,376.3 L731.8,376.5 L733.7,376.6 L735.5,376.7 L737.4,376.8 L739.2,376.9 L741.1,377.0 L743.0,377.1 L744.8,377.1 L746.7,377.2 L748.6,377.2 L750.4,377.3 L752.3,377.3 L754.2,377.3 L756.0,377.4 L757.9,377.4 L759.7,377.5 L761.6,377.5 L763.4,377.6 L765.3,377.6 L767.1,377.7 L769.0,377.8 L770.8,377.9 L772.6,378.0 L774.5,378.1 L776.3,378.2 L778.1,378.3 L779.9,378.4 L781.7,378.5 L783.6,378.6 L785.4,378.7 L787.2,378.8 L789.0,378.9 L790.8,379.1 L792.6,379.2 L794.4,379.3 L796.3,379.4 L798.1,379.4 L799.9,379.5 L801.7,379.6 L803.5,379.7 L805.4,379.7 L807.2,379.8 L809.0,379.8 L810.9,379.9 L812.7,379.9 L814.6,379.9 L816.4,379.8 L818.3,379.8 L820.1,379.8 L822.0,379.7 L823.9,379.6 L824.5,379.6" stroke="#0000ff" stroke-dasharray="9.75 9.75" stroke-dashoffset="1.8" stroke-linecap="round"/>
<path d="M605.9,380.2 L607.7,380.2 L609.5,380.2 L611.3,380.2 L613.1,380.3 L615.0,380.3 L616.8,380.3 L618.6,380.4 L620.4,380.4 L622.3,380.4 L624.1,380.5 L625.9,380.5 L627.7,380.6 L629.6,380.6 L631.4,380.7 L633.2,380.8 L635.0,380.8 L636.8,380.9 L638.7,381.0 L640.5,381.1 L642.3,381.2 L644.1,381.3 L646.0,381.3 L647.8,381.4 L649.6,381.5 L651.4,381.6 L653.3,381.6 L655.1,381.7 L656.9,381.7 L658.7,381.8 L660.6,381.9 L662.4,382.0 L664.2,382.0 L666.0,382.1 L667.8,382.2 L669.7,382.2 L671.5,382.3 L673.3,382.4 L675.1,382.4 L677.0,382.5 L678.8,382.5 L680.6,382.6 L682.4,382.6 L684.3,382.7 L686.1,382.7 L687.9,382.8 L689.7,382.8 L691.6,382.9 L693.4,382.9 L695.2,382.9 L697.0,383.0 L698.8,383.0 L700.7,383.0 L702.5,383.0 L704.3,383.0 L706.1,383.1 L708.0,383.1 L709.8,383.1 L711.6,383.1 L713.4,383.1 L715.3,383.1 L717.1,383.1 L718.9,383.2 L720.7,383.2 L722.6,383.2 L724.4,383.2 L726.2,383.2 L728.0,383.2 L729.8,383.2 L731.7,383.3 L733.5,383.3 L735.3,383.3 L737.1,383.3 L739.0,383.3 L740.8,383.3 L742.6,383.3 L744.4,383.3 L746.3,383.4 L748.1,383.4 L749.9,383.4 L751.7,383.4 L753.5,383.4 L755.4,383.4 L757.2,383.4 L759.0,383.4 L760.8,383.4 L762.7,383.4 L764.5,383.5 L766.3,383.5 L768.1,383.5 L770.0,383.5 L771.8,383.5 L773.6,383.5 L775.4,383.5 L777.3,383.5 L779.1,383.5 L780.9,383.5 L782.7,383.5 L784.5,383.5 L786.4,383.5 L788.2,383.5 L790.0,383.6 L791.8,383.6 L793.7,383.6 L795.5,383.6 L797.3,383.6 L799.1,383.6 L801.0,383.6 L802.8,383.6 L804.6,383.6 L806.4,383.6 L808.3,383.6 L810.1,383.6 L811.9,383.6 L813.7,383.6 L815.5,383.6 L817.4,383.6 L819.2,383.6 L821.0,383.6 L822.8,383.6 L824.3,383.6" stroke="#008000"/>
<path d="M606.0,282.0 L606.2,283.8 L606.4,285.7 L606.6,287.5 L606.8,289.4 L607.1,291.2 L607.3,293.0 L607.6,294.9 L607.9,296.7 L608.1,298.6 L608.4,300.4 L608.7,302.2 L609.1,304.1 L609.4,305.9 L609.7,307.7 L610.1,309.5 L610.4,311.4 L610.8,313.2 L611.1,315.0 L611.5,316.8 L611.9,318.6 L612.3,320.4 L612.7,322.2 L613.1,324.0 L613.5,325.7 L613.9,327.5 L614.4,329.3 L614.8,331.1 L615.2,332.9 L615.6,334.7 L616.0,336.5 L616.4,338.3 L616.8,340.1 L617.3,341.9 L617.6,343.4 L617.9,344.9 L618.2,346.4 L618.5,347.9 L618.8,349.4 L619.1,350.9 L619.3,352.4 L619.6,353.9 L619.9,355.5 L620.1,357.0 L620.4,358.6 L620.6,360.1 L620.9,361.7 L621.2,363.2 L621.5,364.7 L621.9,366.2 L622.4,367.9 L623.0,369.6 L623.7,371.2 L624.6,372.6 L625.6,373.9 L626.7,375.1 L627.9,376.2 L629.3,377.1 L630.8,377.9 L632.3,378.7 L633.9,379.3 L635.6,379.9 L637.3,380.4 L639.1,380.8 L640.8,381.2 L642.6,381.5 L644.4,381.8 L646.2,382.0 L648.0,382.2 L649.9,382.4 L651.7,382.6 L653.5,382.7 L655.4,382.8 L657.2,382.8 L659.1,382.9 L661.0,382.9 L662.8,382.9 L664.7,382.9 L666.2,382.9 L667.7,382.8 L669.2,382.8 L670.7,382.8 L672.2,382.7 L673.7,382.7 L675.2,382.6 L676.7,382.6 L678.2,382.6 L679.7,382.5 L681.2,382.5 L682.7,382.5 L684.2,382.4 L686.1,382.4 L688.0,382.4 L689.8,382.4 L691.7,382.3 L693.6,382.3 L695.5,382.3 L697.3,382.3 L699.2,382.3 L701.0,382.3 L702.9,382.3 L704.8,382.3 L706.6,382.3 L708.5,382.3 L710.4,382.3 L712.2,382.3 L714.1,382.3 L715.9,382.3 L717.8,382.4 L719.6,382.4 L721.5,382.4 L723.3,382.4 L725.2,382.5 L727.0,382.5 L728.9,382.5 L730.7,382.5 L732.6,382.6 L734.4,382.6 L736.3,382.7 L738.1,382.7 L740.0,382.7 L741.8,382.8 L743.7,382.8 L745.5,382.8 L747.4,382.9 L749.2,382.9 L751.1,383.0 L752.9,383.0 L754.8,383.0 L756.6,383.1 L758.5,383.1 L760.3,383.2 L762.2,383.2 L764.0,383.3 L765.9,383.3 L767.7,383.3 L769.6,383.4 L771.4,383.4 L773.3,383.4 L775.1,383.5 L776.9,383.5 L778.8,383.6 L780.6,383.6 L782.5,383.6 L784.3,383.7 L786.2,383.7 L788.1,383.7 L789.9,383.7 L791.8,383.8 L793.6,383.8 L795.5,383.8 L797.3,383.8 L799.2,383.8 L801.0,383.9 L802.9,383.9 L804.7,383.9 L806.6,383.9 L808.5,383.9 L810.3,383.9 L812.2,383.9 L814.0,383.9 L815.9,383.9 L817.8,383.9 L819.6,383.9 L821.5,383.8 L823.4,383.8 L824.5,383.8" stroke="#ff0000" stroke-dasharray="9.75 9.75" stroke-dashoffset="2.0" stroke-linecap="round"/>
</g>
<path d="M171.27,384.04 v-4.5 M171.27,34.75 v4.5 M62.05,333.74 h4.5 M280.5,333.74 h-4.5 M62.05,283.44 h4.5 M280.5,283.44 h-4.5 M62.05,233.14 h4.5 M280.5,233.14 h-4.5 M62.05,182.84 h4.5 M280.5,182.84 h-4.5 M62.05,132.54 h4.5 M280.5,132.54 h-4.5 M62.05,82.24 h4.5 M280.5,82.24 h-4.5" stroke="#222" stroke-width="0.9" fill="none"/>
<rect x="62.05" y="34.75" width="218.45" height="349.29" fill="none" stroke="#000" stroke-width="1.4"/>
<path d="M437.02,384.04 v-4.5 M437.02,34.75 v4.5 M327.8,328.84 h4.5 M546.25,328.84 h-4.5 M327.8,273.64 h4.5 M546.25,273.64 h-4.5 M327.8,218.44 h4.5 M546.25,218.44 h-4.5 M327.8,163.24 h4.5 M546.25,163.24 h-4.5 M327.8,108.04 h4.5 M546.25,108.04 h-4.5 M327.8,52.84 h4.5 M546.25,52.84 h-4.5" stroke="#222" stroke-width="0.9" fill="none"/>
<rect x="327.8" y="34.75" width="218.45" height="349.29" fill="none" stroke="#000" stroke-width="1.4"/>
<path d="M715.08,384.04 v-4.5 M715.08,34.75 v4.5 M605.85,331.14 h4.5 M824.3,331.14 h-4.5 M605.85,278.24 h4.5 M824.3,278.24 h-4.5 M605.85,225.34 h4.5 M824.3,225.34 h-4.5 M605.85,172.44 h4.5 M824.3,172.44 h-4.5 M605.85,119.54 h4.5 M824.3,119.54 h-4.5 M605.85,66.64 h4.5 M824.3,66.64 h-4.5" stroke="#222" stroke-width="0.9" fill="none"/>
<rect x="605.85" y="34.75" width="218.45" height="349.29" fill="none" stroke="#000" stroke-width="1.4"/>
<g font-family="Liberation Sans, sans-serif" fill="#000">
<text x="67.9" y="416.4" font-size="25" text-anchor="middle" >0.0</text>
<text x="167.95" y="416.4" font-size="25" text-anchor="middle" >0.25</text>
<text x="270.2" y="416.4" font-size="25" text-anchor="middle" >0.5</text>
<text x="333.2" y="416.4" font-size="25" text-anchor="middle" >0.0</text>
<text x="433.25" y="416.4" font-size="25" text-anchor="middle" >0.25</text>
<text x="535.5" y="416.4" font-size="25" text-anchor="middle" >0.5</text>
<text x="611.9" y="416.4" font-size="25" text-anchor="middle" >0.0</text>
<text x="711.95" y="416.4" font-size="25" text-anchor="middle" >0.25</text>
<text x="814.2" y="416.4" font-size="25" text-anchor="middle" >0.5</text>
<text x="53.6" y="391.54" font-size="25" text-anchor="end" >0</text>
<text x="53.6" y="341.74" font-size="25" text-anchor="end" >1</text>
<text x="53.6" y="291.94" font-size="25" text-anchor="end" >2</text>
<text x="53.6" y="242.14" font-size="25" text-anchor="end" >3</text>
<text x="53.6" y="192.34" font-size="25" text-anchor="end" >4</text>
<text x="53.6" y="142.54" font-size="25" text-anchor="end" >5</text>
<text x="53.6" y="92.74" font-size="25" text-anchor="end" >6</text>
<text x="318.8" y="390.96" font-size="25" text-anchor="end" >0</text>
<text x="318.8" y="336.49" font-size="25" text-anchor="end" >1</text>
<text x="318.8" y="282.02" font-size="25" text-anchor="end" >2</text>
<text x="318.8" y="227.55" font-size="25" text-anchor="end" >3</text>
<text x="318.8" y="173.08" font-size="25" text-anchor="end" >4</text>
<text x="318.8" y="118.61" font-size="25" text-anchor="end" >5</text>
<text x="318.8" y="64.14" font-size="25" text-anchor="end" >6</text>
<text x="598.6" y="391.36" font-size="25" text-anchor="end" >0.0</text>
<text x="598.6" y="338.69" font-size="25" text-anchor="end" >0.2</text>
<text x="598.6" y="286.02" font-size="25" text-anchor="end" >0.4</text>
<text x="598.6" y="233.35" font-size="25" text-anchor="end" >0.6</text>
<text x="598.6" y="180.68" font-size="25" text-anchor="end" >0.8</text>
<text x="598.6" y="128.01" font-size="25" text-anchor="end" >1.0</text>
<text x="600.9" y="75.34" font-size="25" text-anchor="end" >1.2</text>
<text x="62.7" y="23.9" font-size="32" text-anchor="start">x10<tspan font-size="18.6" dx="1.0" dy="-10.6">10</tspan></text>
<text x="327.4" y="23.9" font-size="32" text-anchor="start">x10<tspan font-size="18.6" dx="1.0" dy="-10.6">10</tspan></text>
<text x="604.1" y="23.9" font-size="32" text-anchor="start">x10<tspan font-size="18.6" dx="1.0" dy="-10.6">10</tspan></text>
<text transform="translate(242.2,67.6) scale(1.02,1)" font-size="31" text-anchor="middle">(a)</text>
<text transform="translate(510.8,67.6) scale(1.02,1)" font-size="31" text-anchor="middle">(b)</text>
<text transform="translate(789.4,67.6) scale(1.02,1)" font-size="31" text-anchor="middle">(c)</text>
<text transform="translate(22.9,334.9) rotate(-90)" font-size="30.2" text-anchor="start">Transfer rate [s<tspan font-size="19" dy="-10.3">-1</tspan><tspan dy="10.3">]</tspan></text>
<text x="142.4" y="450.5" font-size="31" text-anchor="start" font-family="Liberation Serif, serif"><tspan font-style="italic">θ</tspan>/<tspan stroke="#000" stroke-width="0.6">π</tspan></text>
<text x="408.4" y="450.5" font-size="31" text-anchor="start" font-family="Liberation Serif, serif"><tspan font-style="italic">θ</tspan>/<tspan stroke="#000" stroke-width="0.6">π</tspan></text>
<text x="686.4" y="450.5" font-size="31" text-anchor="start" font-family="Liberation Serif, serif"><tspan font-style="italic">θ</tspan>/<tspan stroke="#000" stroke-width="0.6">π</tspan></text>
<text x="153.8" y="149.0" font-size="31">A</text>
<text x="174.9" y="158.3" font-size="18">2</text>
<path d="M190.50,141.30 H218.70 M212.20,136.60 Q215.12,140.12 218.70,141.30 Q215.12,142.48 212.20,146.00" fill="none" stroke="#000" stroke-width="1.5" stroke-linecap="round" stroke-linejoin="round"/>
<text x="227.7" y="149.0" font-size="31">E</text>
<text x="248.9" y="159.7" font-size="18">+</text>
<text x="421.9" y="148.1" font-size="31">E</text>
<text x="442.4" y="158.79999999999998" font-size="18">+</text>
<path d="M458.40,140.40 H485.90 M479.40,135.70 Q482.32,139.22 485.90,140.40 Q482.32,141.58 479.40,145.10" fill="none" stroke="#000" stroke-width="1.5" stroke-linecap="round" stroke-linejoin="round"/>
<text x="494.4" y="148.1" font-size="31">A</text>
<text x="514.7" y="157.4" font-size="18">2</text>
<text x="700.4" y="149.1" font-size="31">E</text>
<text x="721.0" y="159.79999999999998" font-size="18">+</text>
<path d="M737.60,141.40 H765.40 M758.90,136.70 Q761.82,140.22 765.40,141.40 Q761.82,142.58 758.90,146.10" fill="none" stroke="#000" stroke-width="1.5" stroke-linecap="round" stroke-linejoin="round"/>
<text x="775.0" y="149.1" font-size="31">E</text>
<text x="795.5" y="159.79999999999998" font-size="18">+</text>
<path d="M3.50,473.40 H27.40" stroke="#0000ff" stroke-width="5" stroke-linecap="round" fill="none"/>
<text transform="translate(36.90,479.10) scale(1.02,1)" font-size="19.5">(7,5)</text>
<path d="M83.30,473.40 H101.20 M96.60,469.80 Q98.67,472.50 101.20,473.40 Q98.67,474.30 96.60,477.00" fill="none" stroke="#000" stroke-width="1.1" stroke-linecap="round" stroke-linejoin="round"/>
<text transform="translate(107.20,479.10) scale(1.02,1)" font-size="19.5">(7,5)</text>
<path d="M3.50,498.45 H27.40" stroke="#008000" stroke-width="5" stroke-linecap="round" fill="none"/>
<text transform="translate(36.90,504.15) scale(1.02,1)" font-size="19.5">(7,5)</text>
<path d="M83.30,498.45 H101.20 M96.60,494.85 Q98.67,497.55 101.20,498.45 Q98.67,499.35 96.60,502.05" fill="none" stroke="#000" stroke-width="1.1" stroke-linecap="round" stroke-linejoin="round"/>
<text transform="translate(107.20,504.15) scale(1.02,1)" font-size="19.5">(7,6)</text>
<path d="M172.50,473.40 H196.40" stroke="#ff0000" stroke-width="5" stroke-linecap="round" fill="none"/>
<text transform="translate(205.90,479.10) scale(1.02,1)" font-size="19.5">(7,5)</text>
<path d="M252.30,473.40 H270.20 M265.60,469.80 Q267.67,472.50 270.20,473.40 Q267.67,474.30 265.60,477.00" fill="none" stroke="#000" stroke-width="1.1" stroke-linecap="round" stroke-linejoin="round"/>
<text transform="translate(276.20,479.10) scale(1.02,1)" font-size="19.5">(8,6)</text>
<path d="M172.50,498.45 H196.40" stroke="#00bfbf" stroke-width="5" stroke-linecap="round" fill="none"/>
<text transform="translate(205.90,504.15) scale(1.02,1)" font-size="19.5">(7,5)</text>
<path d="M252.30,498.45 H270.20 M265.60,494.85 Q267.67,497.55 270.20,498.45 Q267.67,499.35 265.60,502.05" fill="none" stroke="#000" stroke-width="1.1" stroke-linecap="round" stroke-linejoin="round"/>
<text transform="translate(276.20,504.15) scale(1.02,1)" font-size="19.5">(8,7)</text>
<path d="M341.50,473.40 H365.40" stroke="#bf00bf" stroke-width="5" stroke-linecap="round" fill="none"/>
<text transform="translate(374.90,479.10) scale(1.02,1)" font-size="19.5">(7,6)</text>
<path d="M421.30,473.40 H439.20 M434.60,469.80 Q436.67,472.50 439.20,473.40 Q436.67,474.30 434.60,477.00" fill="none" stroke="#000" stroke-width="1.1" stroke-linecap="round" stroke-linejoin="round"/>
<text transform="translate(445.20,479.10) scale(1.02,1)" font-size="19.5">(7,6)</text>
<path d="M341.50,498.45 H365.40" stroke="#bfbf00" stroke-width="5" stroke-linecap="round" fill="none"/>
<text transform="translate(374.90,504.15) scale(1.02,1)" font-size="19.5">(7,6)</text>
<path d="M421.30,498.45 H439.20 M434.60,494.85 Q436.67,497.55 439.20,498.45 Q436.67,499.35 434.60,502.05" fill="none" stroke="#000" stroke-width="1.1" stroke-linecap="round" stroke-linejoin="round"/>
<text transform="translate(445.20,504.15) scale(1.02,1)" font-size="19.5">(8,6)</text>
<path d="M510.50,473.40 H534.40" stroke="#000000" stroke-width="5" stroke-linecap="round" fill="none"/>
<text transform="translate(543.90,479.10) scale(1.02,1)" font-size="19.5">(7,6)</text>
<path d="M590.30,473.40 H608.20 M603.60,469.80 Q605.67,472.50 608.20,473.40 Q605.67,474.30 603.60,477.00" fill="none" stroke="#000" stroke-width="1.1" stroke-linecap="round" stroke-linejoin="round"/>
<text transform="translate(614.20,479.10) scale(1.02,1)" font-size="19.5">(8,7)</text>
<path d="M510.50,498.45 H513.70 M519.80,498.45 H525.70 M532.10,498.45 H534.40" stroke="#0000ff" stroke-width="5" stroke-linecap="round" fill="none"/>
<text transform="translate(543.90,504.15) scale(1.02,1)" font-size="19.5">(8,6)</text>
<path d="M590.30,498.45 H608.20 M603.60,494.85 Q605.67,497.55 608.20,498.45 Q605.67,499.35 603.60,502.05" fill="none" stroke="#000" stroke-width="1.1" stroke-linecap="round" stroke-linejoin="round"/>
<text transform="translate(614.20,504.15) scale(1.02,1)" font-size="19.5">(8,6)</text>
<path d="M679.50,473.40 H682.70 M688.80,473.40 H694.70 M701.10,473.40 H703.40" stroke="#008000" stroke-width="5" stroke-linecap="round" fill="none"/>
<text transform="translate(712.90,479.10) scale(1.02,1)" font-size="19.5">(8,6)</text>
<path d="M759.30,473.40 H777.20 M772.60,469.80 Q774.67,472.50 777.20,473.40 Q774.67,474.30 772.60,477.00" fill="none" stroke="#000" stroke-width="1.1" stroke-linecap="round" stroke-linejoin="round"/>
<text transform="translate(783.20,479.10) scale(1.02,1)" font-size="19.5">(8,7)</text>
<path d="M679.50,498.45 H682.70 M688.80,498.45 H694.70 M701.10,498.45 H703.40" stroke="#ff0000" stroke-width="5" stroke-linecap="round" fill="none"/>
<text transform="translate(712.90,504.15) scale(1.02,1)" font-size="19.5">(8,7)</text>
<path d="M759.30,498.45 H777.20 M772.60,494.85 Q774.67,497.55 777.20,498.45 Q774.67,499.35 772.60,502.05" fill="none" stroke="#000" stroke-width="1.1" stroke-linecap="round" stroke-linejoin="round"/>
<text transform="translate(783.20,504.15) scale(1.02,1)" font-size="19.5">(8,7)</text>
</g>
</svg>
</body></html>
